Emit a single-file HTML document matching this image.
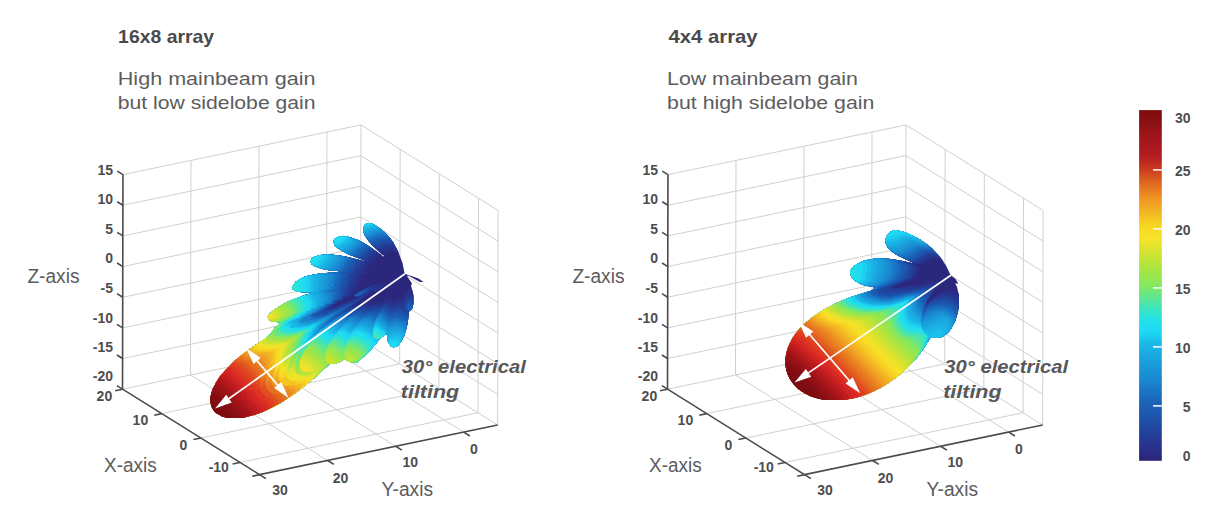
<!DOCTYPE html>
<html><head><meta charset="utf-8"><style>
html,body{margin:0;padding:0;background:#fff;}
svg{display:block;font-family:"Liberation Sans",sans-serif;}
</style></head><body>
<svg width="1222" height="529" viewBox="0 0 1222 529">
<rect width="1222" height="529" fill="#fff"/>
<line x1="190.97" y1="160.41" x2="190.51" y2="374.98" stroke="#d0d0d0" stroke-width="1.0"/>
<line x1="258.97" y1="146.22" x2="258.52" y2="360.79" stroke="#d0d0d0" stroke-width="1.0"/>
<line x1="326.98" y1="132.03" x2="326.52" y2="346.59" stroke="#d0d0d0" stroke-width="1.0"/>
<line x1="122.97" y1="174.61" x2="360.98" y2="124.93" stroke="#d0d0d0" stroke-width="1.0"/>
<line x1="122.9" y1="205.26" x2="360.92" y2="155.58" stroke="#d0d0d0" stroke-width="1.0"/>
<line x1="122.84" y1="235.91" x2="360.85" y2="186.24" stroke="#d0d0d0" stroke-width="1.0"/>
<line x1="122.77" y1="266.56" x2="360.78" y2="216.89" stroke="#d0d0d0" stroke-width="1.0"/>
<line x1="122.7" y1="297.22" x2="360.72" y2="247.54" stroke="#d0d0d0" stroke-width="1.0"/>
<line x1="122.64" y1="327.87" x2="360.65" y2="278.19" stroke="#d0d0d0" stroke-width="1.0"/>
<line x1="122.57" y1="358.52" x2="360.59" y2="308.84" stroke="#d0d0d0" stroke-width="1.0"/>
<line x1="400.15" y1="149.35" x2="399.7" y2="363.92" stroke="#d0d0d0" stroke-width="1.0"/>
<line x1="439.33" y1="173.78" x2="438.87" y2="388.34" stroke="#d0d0d0" stroke-width="1.0"/>
<line x1="478.5" y1="198.2" x2="478.04" y2="412.77" stroke="#d0d0d0" stroke-width="1.0"/>
<line x1="498.09" y1="210.41" x2="497.63" y2="424.98" stroke="#d0d0d0" stroke-width="1.0"/>
<line x1="360.98" y1="124.93" x2="360.52" y2="339.5" stroke="#d0d0d0" stroke-width="1.0"/>
<line x1="360.98" y1="124.93" x2="498.09" y2="210.41" stroke="#d0d0d0" stroke-width="1.0"/>
<line x1="360.92" y1="155.58" x2="498.02" y2="241.06" stroke="#d0d0d0" stroke-width="1.0"/>
<line x1="360.85" y1="186.24" x2="497.96" y2="271.72" stroke="#d0d0d0" stroke-width="1.0"/>
<line x1="360.78" y1="216.89" x2="497.89" y2="302.37" stroke="#d0d0d0" stroke-width="1.0"/>
<line x1="360.72" y1="247.54" x2="497.83" y2="333.02" stroke="#d0d0d0" stroke-width="1.0"/>
<line x1="360.65" y1="278.19" x2="497.76" y2="363.67" stroke="#d0d0d0" stroke-width="1.0"/>
<line x1="360.59" y1="308.84" x2="497.7" y2="394.33" stroke="#d0d0d0" stroke-width="1.0"/>
<line x1="190.51" y1="374.98" x2="327.62" y2="460.46" stroke="#d0d0d0" stroke-width="1.0"/>
<line x1="258.52" y1="360.79" x2="395.63" y2="446.27" stroke="#d0d0d0" stroke-width="1.0"/>
<line x1="326.52" y1="346.59" x2="463.63" y2="432.07" stroke="#d0d0d0" stroke-width="1.0"/>
<line x1="161.68" y1="413.6" x2="399.7" y2="363.92" stroke="#d0d0d0" stroke-width="1.0"/>
<line x1="200.86" y1="438.02" x2="438.87" y2="388.34" stroke="#d0d0d0" stroke-width="1.0"/>
<line x1="240.03" y1="462.44" x2="478.04" y2="412.77" stroke="#d0d0d0" stroke-width="1.0"/>
<line x1="360.52" y1="339.5" x2="122.51" y2="389.17" stroke="#d0d0d0" stroke-width="1.0"/>
<line x1="360.52" y1="339.5" x2="497.63" y2="424.98" stroke="#d0d0d0" stroke-width="1.0"/>
<line x1="735.97" y1="160.41" x2="735.51" y2="374.98" stroke="#d0d0d0" stroke-width="1.0"/>
<line x1="803.97" y1="146.22" x2="803.52" y2="360.79" stroke="#d0d0d0" stroke-width="1.0"/>
<line x1="871.98" y1="132.03" x2="871.52" y2="346.59" stroke="#d0d0d0" stroke-width="1.0"/>
<line x1="667.97" y1="174.61" x2="905.98" y2="124.93" stroke="#d0d0d0" stroke-width="1.0"/>
<line x1="667.9" y1="205.26" x2="905.92" y2="155.58" stroke="#d0d0d0" stroke-width="1.0"/>
<line x1="667.84" y1="235.91" x2="905.85" y2="186.24" stroke="#d0d0d0" stroke-width="1.0"/>
<line x1="667.77" y1="266.56" x2="905.78" y2="216.89" stroke="#d0d0d0" stroke-width="1.0"/>
<line x1="667.7" y1="297.22" x2="905.72" y2="247.54" stroke="#d0d0d0" stroke-width="1.0"/>
<line x1="667.64" y1="327.87" x2="905.65" y2="278.19" stroke="#d0d0d0" stroke-width="1.0"/>
<line x1="667.57" y1="358.52" x2="905.59" y2="308.84" stroke="#d0d0d0" stroke-width="1.0"/>
<line x1="945.15" y1="149.35" x2="944.7" y2="363.92" stroke="#d0d0d0" stroke-width="1.0"/>
<line x1="984.33" y1="173.78" x2="983.87" y2="388.34" stroke="#d0d0d0" stroke-width="1.0"/>
<line x1="1023.5" y1="198.2" x2="1023.04" y2="412.77" stroke="#d0d0d0" stroke-width="1.0"/>
<line x1="1043.09" y1="210.41" x2="1042.63" y2="424.98" stroke="#d0d0d0" stroke-width="1.0"/>
<line x1="905.98" y1="124.93" x2="905.52" y2="339.5" stroke="#d0d0d0" stroke-width="1.0"/>
<line x1="905.98" y1="124.93" x2="1043.09" y2="210.41" stroke="#d0d0d0" stroke-width="1.0"/>
<line x1="905.92" y1="155.58" x2="1043.02" y2="241.06" stroke="#d0d0d0" stroke-width="1.0"/>
<line x1="905.85" y1="186.24" x2="1042.96" y2="271.72" stroke="#d0d0d0" stroke-width="1.0"/>
<line x1="905.78" y1="216.89" x2="1042.89" y2="302.37" stroke="#d0d0d0" stroke-width="1.0"/>
<line x1="905.72" y1="247.54" x2="1042.83" y2="333.02" stroke="#d0d0d0" stroke-width="1.0"/>
<line x1="905.65" y1="278.19" x2="1042.76" y2="363.67" stroke="#d0d0d0" stroke-width="1.0"/>
<line x1="905.59" y1="308.84" x2="1042.7" y2="394.33" stroke="#d0d0d0" stroke-width="1.0"/>
<line x1="735.51" y1="374.98" x2="872.62" y2="460.46" stroke="#d0d0d0" stroke-width="1.0"/>
<line x1="803.52" y1="360.79" x2="940.62" y2="446.27" stroke="#d0d0d0" stroke-width="1.0"/>
<line x1="871.52" y1="346.59" x2="1008.63" y2="432.07" stroke="#d0d0d0" stroke-width="1.0"/>
<line x1="706.68" y1="413.6" x2="944.7" y2="363.92" stroke="#d0d0d0" stroke-width="1.0"/>
<line x1="745.86" y1="438.02" x2="983.87" y2="388.34" stroke="#d0d0d0" stroke-width="1.0"/>
<line x1="785.03" y1="462.44" x2="1023.04" y2="412.77" stroke="#d0d0d0" stroke-width="1.0"/>
<line x1="905.52" y1="339.5" x2="667.51" y2="389.17" stroke="#d0d0d0" stroke-width="1.0"/>
<line x1="905.52" y1="339.5" x2="1042.63" y2="424.98" stroke="#d0d0d0" stroke-width="1.0"/>
<g transform="scale(0.5)" fill-rule="evenodd">
<path fill="#2b277d" d="M769 464l-14 -11 -14 -7 -10 2 -4 5 -1 4 1 8 7 13 10 12 20 19 -1 1 -24 -17 -23 -13 -21 -7 -17 0 -8 4 -3 5 2 8 6 6 20 12 33 12 0 2 -42 -10 -25 -3 -13 0 -12 2 -10 4 -4 4 -1 5 2 4 12 7 25 6 16 1 5 2 -41 3 -22 4 -10 3 -17 10 -6 9 0 5 4 3 10 3 28 1 -20 6 -35 14 -23 14 -10 9 -4 6 4 6 6 3 17 2 -13 11 -8 12 -8 8 -31 20 -32 25 -31 33 -13 23 -5 17 1 16 3 7 6 8 14 8 12 3 31 -1 29 -8 37 -17 33 -21 43 -34 30 -28 15 -1 15 -8 11 7 13 0 24 -21 24 -29 5 -2 5 -5 2 1 1 12 7 12 6 2 7 -3 4 -4 9 -16 6 -19 4 -30 7 -7 2 -9 0 -16 -5 -20 2 -4 -10 -15 2 -1 24 13 7 0 -10 -7 -26 -9 -2 -2 -4 -20 -9 -24 -10 -18zM763 510l2 -1 3 3 -2 1z"/>
<path fill="#2a2d85" d="M802 555l-19 17 7 -5 1 1 -5 9 10 -12 -1 -2zM795 563l1 1 -4 3 -1 -1zM800 549l-24 4 -4 3zM769 464l-14 -11 -14 -7 -10 2 -4 5 -1 4 1 8 7 13 10 12 20 19 -1 1 -24 -17 -23 -13 -21 -7 -17 0 -8 4 -3 5 2 8 6 6 20 12 33 12 0 2 -42 -10 -25 -3 -13 0 -12 2 -10 4 -4 4 -1 5 2 4 12 7 25 6 16 1 5 2 -41 3 -22 4 -10 3 -17 10 -6 9 0 5 4 3 10 3 28 1 -20 6 -35 14 -23 14 -10 9 -4 6 4 6 6 3 17 2 -13 11 -8 12 -8 8 -31 20 -32 25 -31 33 -13 23 -5 17 1 16 3 7 6 8 14 8 12 3 31 -1 29 -8 37 -17 33 -21 43 -34 30 -28 15 -1 15 -8 11 7 13 0 24 -21 24 -29 5 -2 5 -5 2 1 1 12 7 12 6 2 7 -3 4 -4 9 -16 5 -15 5 -34 5 -4 3 -7 1 -21 -2 -10 -5 -3 -5 0 -11 16 -6 2 -10 8 -2 -2 0 -5 -5 1 -4 -2 -3 2 0 -3 -2 0 -7 7 -4 0 -9 5 -4 -3 -9 2 -9 -1 -3 2 -13 -1 31 -21 9 -3 9 -6 2 1 -1 2 6 -1 7 -5 6 -7 -3 0 -5 3 -2 -1 0 -3 -6 2 -7 -2 -11 3 -29 13 -12 9 -2 -1 0 -2 12 -9 -5 0 2 -2 -1 -1 8 -8 -5 -3 12 -3 2 -4 -10 0 5 -4 -1 -1 10 -6 -3 -5 4 -1 -1 -3 3 -3 2 0 -1 -2 3 -3 9 0 -4 -4 3 -4 2 0 0 -5 5 2 2 -2 -2 -2 6 -2 1 -3 2 1 3 -3 14 -5 15 5 -12 -23zM711 595l-25 12 -18 7 -2 -1 14 -10 10 -4 -1 -2 5 -3 12 -4 1 3z"/>
<path fill="#28338d" d="M776 571l-8 4 -3 4 4 -1zM826 588l-8 -3 -5 2 -5 8 -2 7 -10 0 -9 7 -2 -1 -1 -5 -12 -2 -5 4 -7 1 -6 3 -26 0 -4 2 -10 -1 -8 3 -1 -1 3 -3 35 -24 -5 2 -1 -1 2 -3 5 -3 2 1 0 2 6 -1 14 -10 0 -2 -3 0 -7 3 -1 -3 -6 -1 -14 5 -23 13 -5 5 2 2 4 0 0 2 -35 15 -16 5 -1 -1 9 -7 4 -1 3 -4 9 -3 1 -4 18 -7 0 -2 6 -5 -5 2 -3 -1 5 -4 -1 -5 6 -3 -3 -3 4 -2 -3 -3 9 -8 -4 -1 3 -2 0 -2 8 -5 -4 -1 3 -3 -3 -4 10 0 0 -2 -4 0 -1 -2 6 -3 2 -6 3 0 6 -5 1 -3 3 1 1 -3 9 -7 -35 -23 -24 -10 -22 -1 -5 2 -5 4 -1 6 2 5 6 6 20 12 34 13 -4 1 -29 -8 -35 -5 -21 1 -14 5 -4 4 -1 5 2 4 5 4 17 6 15 3 16 1 5 2 -41 3 -22 4 -10 3 -17 10 -6 9 0 5 4 3 10 3 28 1 -20 6 -35 14 -23 14 -10 9 -4 6 4 6 6 3 17 2 -13 11 -8 12 -8 8 -31 20 -32 25 -31 33 -13 23 -4 12 -1 15 4 13 6 8 14 8 12 3 31 -1 29 -8 37 -17 33 -21 43 -34 30 -28 15 -1 15 -8 11 7 13 0 24 -21 24 -29 5 -2 5 -5 2 1 1 12 6 11 7 3 7 -3 8 -10 10 -25 5 -34 7 -7 2 -9zM729 450l-3 7 3 13 15 20 17 16 19 -9 15 4 -14 -24 -19 -19 -21 -12 -5 0z"/>
<path fill="#253993" d="M761 574l-2 -1 -7 3 -6 6 1 1 6 -2zM827 594l-6 -3 -6 0 -5 6 -3 10 -14 1 -7 5 -3 -1 -1 -4 -11 -4 -8 7 -9 -1 -8 4 -2 -2 -16 1 -2 -2 -8 4 -4 -2 -12 2 -1 -1 32 -23 1 -1 -3 0 -4 2 -1 -1 17 -11 6 -6 -1 -2 -6 0 -24 11 -10 8 0 2 12 0 0 2 -48 19 -15 4 -1 -1 3 -3 15 -8 -1 -1 2 -2 9 -3 1 -5 19 -7 -9 0 7 -6 -2 -1 1 -3 6 -7 0 -2 -5 -1 9 -2 0 -4 4 -5 -7 0 5 -3 2 -5 2 0 2 -4 -2 -4 5 -1 -1 -5 7 -4 3 -9 4 0 5 -6 2 0 0 -4 3 -3 5 -1 5 -4 -31 -20 -24 -10 -22 -1 -5 2 -5 4 -1 6 2 5 6 6 20 12 34 13 -4 1 -29 -8 -35 -5 -21 1 -14 5 -4 4 -1 5 2 4 5 4 17 6 15 3 16 1 5 2 -41 3 -22 4 -10 3 -17 10 -6 9 0 5 4 3 10 3 28 1 -20 6 -35 14 -23 14 -10 9 -4 6 4 6 6 3 17 2 -13 11 -8 12 -8 8 -31 20 -32 25 -31 33 -13 23 -4 12 -1 15 4 13 6 8 14 8 12 3 31 -1 29 -8 37 -17 33 -21 43 -34 30 -28 15 -1 15 -8 11 7 13 0 24 -21 24 -29 5 -2 5 -5 2 1 1 12 6 11 7 3 7 -3 8 -10 10 -25 5 -34 5 -4 3 -7zM729 450l-3 7 3 13 8 12 20 20 18 -9 18 3 -12 -19 -19 -19 -21 -12 -5 0z"/>
<path fill="#234099" d="M756 577l-5 1 -4 4 6 -2zM743 576l-4 -2 -15 6 -14 9 -2 4 11 0 5 -2 19 -12zM827 599l-4 -3 -8 0 -6 8 1 8 -3 2 -2 -2 -14 1 -8 4 -4 -6 -9 -3 -3 1 -3 4 -14 0 -2 2 -7 0 -5 3 -1 -3 -6 0 -4 -2 -8 5 -3 0 -3 -3 -7 0 -9 5 -1 -1 26 -20 4 -4 -2 0 -45 19 -23 5 -1 -1 8 -5 2 -3 8 -3 2 -4 11 -4 -1 -3 15 -12 -5 0 3 -2 1 -7 4 -3 0 -3 -4 -2 2 -2 10 -1 1 -2 -11 0 8 -6 -1 -2 4 -4 1 -4 3 -1 -2 -1 0 -2 3 -1 -2 -3 7 0 3 -6 -2 0 -1 -2 4 -2 3 -5 -3 -2 -28 -7 -35 -5 -21 1 -14 5 -4 4 -1 5 2 4 5 4 17 6 15 3 16 1 5 2 -41 3 -22 4 -10 3 -17 10 -6 9 0 5 4 3 10 3 28 1 -20 6 -35 14 -23 14 -10 9 -4 6 4 6 6 3 17 2 -13 11 -8 12 -8 8 -31 20 -32 25 -31 33 -13 23 -4 12 -1 15 4 13 6 8 14 8 12 3 31 -1 29 -8 37 -17 33 -21 43 -34 30 -28 15 -1 15 -8 11 7 13 0 24 -21 24 -29 5 -2 5 -5 2 1 1 12 6 11 7 3 7 -3 8 -10 5 -10 6 -19 4 -30 7 -7zM667 482l2 8 15 12 18 9 27 10 7 -6 1 -4 4 2 0 -2 9 -9 -8 -7 -18 -11 -24 -10 -22 -1 -8 4zM727 453l-1 7 3 10 8 12 15 16 9 -2 12 -6 9 0 8 2 -4 -8 -10 -13 -21 -18 -14 -7 -8 1z"/>
<path fill="#20469f" d="M738 578l-6 -1 -19 10 -5 5 12 0 14 -8zM827 603l-5 -3 -7 0 -5 7 1 9 2 3 -1 1 -4 0 -1 -3 -3 1 -3 -2 -7 0 -12 4 -5 -6 -9 -3 -9 6 -8 -1 -14 4 -8 -3 -9 0 -4 3 -5 0 -1 -2 -3 1 -3 -2 -12 5 -1 -1 27 -23 -7 4 -46 18 -5 1 0 -2 -4 0 -6 2 -1 -1 3 -3 9 -5 2 -3 7 -2 -1 -2 2 -2 12 -4 0 -4 12 -9 -6 0 5 -8 -2 -2 6 -3 -2 -1 2 -3 -3 -2 0 -2 8 -8 -2 -2 2 -1 1 -5 -3 -2 6 -1 2 -2 -1 -3 4 -2 -3 -3 1 -3 8 -4 4 -8 -36 -9 -25 -3 -21 1 -14 5 -4 4 -1 5 2 4 5 4 17 6 15 3 16 1 5 2 -41 3 -22 4 -10 3 -17 10 -6 9 0 5 4 3 10 3 28 1 -20 6 -35 14 -23 14 -10 9 -4 6 4 6 6 3 17 2 -13 11 -8 12 -8 8 -31 20 -32 25 -31 33 -13 23 -4 12 -1 15 4 13 6 8 14 8 12 3 31 -1 29 -8 37 -17 33 -21 43 -34 30 -28 15 -1 15 -8 11 7 13 0 24 -21 24 -29 5 -2 5 -5 2 1 1 12 6 11 7 3 7 -3 8 -10 5 -10 8 -29 1 -17 -2 -2 6 -3 4 -5zM667 482l2 8 15 12 11 6 28 11 3 0 6 -7 2 1 1 -5 3 -3 5 -1 4 -4 -5 -5 -18 -11 -24 -10 -22 -1 -8 4zM727 453l-1 7 3 10 8 12 12 13 7 -1 14 -7 18 1 -12 -17 -21 -18 -14 -7 -8 1z"/>
<path fill="#1e4da5" d="M817 603l-6 6 0 5 5 8 3 0 6 -6 2 -9 -4 -3zM734 581l-2 -2 -4 0 -10 5 -10 8 11 0 9 -5 4 -4 2 0zM815 627l-5 -1 -1 -4 -3 1 -4 -3 -11 0 -7 4 -3 0 -2 -4 -12 -6 -11 7 -2 -3 -2 2 -5 -1 -8 3 -21 -3 -10 5 -4 -4 -5 0 -11 5 -1 -1 23 -21 -40 17 -10 2 -9 4 -4 0 -1 -1 5 -3 -7 2 -1 -1 17 -11 2 -3 6 -2 1 -4 12 -4 1 -3 7 -6 -4 -2 3 -3 -1 -1 2 -3 -2 -4 7 -4 -3 -2 5 -2 -2 -4 5 -6 -5 -1 4 -3 -1 -1 3 -3 -2 -4 6 -2 0 -6 5 -1 -1 -3 6 -6 -2 -1 4 -2 -1 -6 -6 -3 -37 -7 -24 -1 -18 4 -4 2 -5 6 2 7 5 4 17 6 15 3 16 1 5 2 -41 3 -22 4 -10 3 -17 10 -6 9 0 5 4 3 10 3 28 1 -20 6 -35 14 -23 14 -10 9 -4 6 4 6 6 3 17 2 -13 11 -8 12 -8 8 -31 20 -32 25 -31 33 -13 23 -4 12 -1 15 3 11 7 10 14 8 12 3 23 0 13 -2 24 -7 17 -7 27 -14 33 -22 36 -29 30 -28 15 -1 15 -8 11 7 13 0 24 -21 24 -29 5 -2 5 -5 2 1 1 12 6 11 7 3 7 -3 8 -10 10 -25 4 -21 0 -5zM667 482l2 8 6 6 20 12 26 10 6 -6 2 0 1 -4 3 2 2 -4 9 -9 -28 -17 -21 -7 -17 0 -8 4zM727 453l-1 7 3 10 8 12 9 10 6 0 16 -8 18 0 -17 -20 -21 -15 -7 -3 -5 0 -5 2z"/>
<path fill="#1d54ab" d="M822 607l-6 0 -4 5 1 6 4 4 4 -1 4 -5 1 -6zM729 582l-4 -1 -5 2 -12 9 6 1 6 -2 6 -4zM817 635l-6 -8 -4 1 -1 -3 -2 1 -2 -2 -1 1 -4 -2 -4 2 -4 -1 -8 4 -5 -6 -10 -6 -10 8 -4 0 -1 -2 -5 -1 -19 5 -2 -2 1 -2 -3 1 -5 -2 -10 5 -6 -3 -7 -1 -9 5 -2 -4 18 -14 0 -2 -46 19 -14 2 -6 3 -5 0 0 -2 5 -2 17 -13 4 -1 3 -4 7 -2 0 -4 14 -5 1 -3 5 -5 -4 2 -3 -1 6 -5 -2 -1 0 -8 5 -3 0 -2 -3 0 -2 -2 9 -2 2 -6 -7 1 -1 -2 7 -5 -1 -2 3 -5 -9 -3 6 -2 7 0 0 -8 8 -2 1 -3 -3 -2 5 -3 2 -5 -4 -4 -37 -7 -24 -1 -18 4 -4 2 -5 6 2 7 5 4 17 6 15 3 16 1 5 2 -41 3 -22 4 -10 3 -17 10 -6 9 0 5 4 3 10 3 28 1 -20 6 -35 14 -23 14 -10 9 -4 6 4 6 6 3 17 2 -13 11 -8 12 -8 8 -31 20 -32 25 -31 33 -13 23 -4 12 -1 15 3 11 7 10 14 8 12 3 23 0 13 -2 24 -7 17 -7 27 -14 33 -22 36 -29 30 -28 15 -1 15 -8 11 7 13 0 24 -21 24 -29 5 -2 5 -5 2 1 1 12 6 11 7 3 7 -3 8 -10 5 -10 6 -19zM667 482l2 8 6 6 14 9 26 11 4 0 6 -7 2 1 2 -6 2 -2 5 -1 4 -5 -1 -3 -15 -9 -29 -11 -17 0 -8 4zM727 453l-1 7 3 10 8 12 7 7 7 0 17 -8 16 1 -15 -18 -21 -15 -7 -3 -5 0 -5 2z"/>
<path fill="#1c5ab0" d="M821 610l-4 0 -4 5 2 5 3 2 3 -1 4 -5 0 -4zM726 584l-5 -1 -12 9 7 0 10 -6zM816 638l-3 -5 -4 0 -1 -3 -3 0 -1 -2 -2 1 -1 -2 -6 1 -2 -2 -13 5 -5 -6 -10 -6 -3 1 -7 7 -5 -1 0 -2 -10 0 -5 3 -3 -1 -4 4 -2 0 -6 -6 -4 0 -13 5 -3 -4 -5 -1 -10 3 -4 3 -1 -2 -5 3 -1 -1 22 -19 -48 19 -6 -1 -18 5 -1 -2 2 -2 18 -9 7 -6 5 -2 2 -3 8 -3 0 -3 2 -2 14 -5 3 -4 -6 2 -3 -1 7 -6 -4 0 2 -1 2 -5 -6 -3 8 -3 0 -4 -3 -3 0 -3 8 -8 -2 -2 4 -5 0 -3 -7 -1 -1 -2 10 -1 3 -3 0 -2 3 -1 -1 -5 8 -6 -1 -1 4 -4 -1 -5 -36 -7 -24 -1 -18 4 -4 2 -5 6 2 7 5 4 17 6 15 3 16 1 5 2 -41 3 -22 4 -10 3 -17 10 -6 9 0 5 4 3 10 3 28 1 -20 6 -35 14 -23 14 -10 9 -4 6 4 6 6 3 17 2 -13 11 -8 12 -8 8 -31 20 -32 25 -31 33 -13 23 -4 12 -1 15 3 11 7 10 14 8 12 3 23 0 13 -2 24 -7 17 -7 27 -14 33 -22 36 -29 30 -28 15 -1 15 -8 11 7 13 0 24 -21 24 -29 5 -2 5 -5 2 1 1 12 6 11 7 3 7 -3 8 -10 5 -10 6 -19zM667 482l2 8 6 6 14 9 23 10 3 0 7 -6 1 -3 4 1 0 -2 10 -11 0 -2 -13 -8 -29 -11 -17 0 -8 4zM727 453l-1 7 3 10 13 17 8 -1 14 -7 18 0 -13 -15 -21 -15 -7 -3 -5 0 -5 2z"/>
<path fill="#1a61b6" d="M818 613l-3 3 0 3 4 3 6 -6zM721 586l-2 -1 -10 7 6 0 5 -3zM816 642l-6 -7 -3 0 -2 -3 -2 1 -9 -3 -15 4 -5 -6 -10 -6 -4 1 -6 7 -12 -4 -11 2 -5 4 -2 0 -1 -3 -3 -2 -9 -1 -8 5 -4 -1 -3 -3 -7 0 -14 6 -1 2 -2 -1 -4 2 -1 -1 24 -21 -36 15 -17 4 0 -2 -15 3 -1 -2 2 -2 11 -5 15 -11 4 -1 1 -3 9 -3 1 -5 15 -6 -8 2 -1 -2 7 -6 -4 0 3 -3 -2 -7 -2 -1 8 -3 -3 -3 4 -1 -2 -6 5 -6 -4 -1 4 -3 1 -7 -5 -4 9 -2 0 -2 3 -2 -1 -2 5 -1 1 -5 4 -3 -2 -2 4 -2 1 -5 -5 -4 -39 -6 -21 1 -14 5 -5 6 2 7 5 4 17 6 15 3 16 1 5 2 -41 3 -22 4 -10 3 -17 10 -6 9 0 5 4 3 10 3 28 1 -20 6 -35 14 -23 14 -10 9 -4 6 4 6 6 3 17 2 -13 11 -8 12 -8 8 -31 20 -32 25 -31 33 -13 23 -4 12 -1 15 3 11 7 10 14 8 12 3 31 -1 37 -11 36 -18 33 -22 36 -29 30 -28 15 -1 15 -8 11 7 13 0 24 -21 24 -29 5 -2 5 -5 2 1 1 12 6 11 7 3 7 -3 8 -10 5 -10zM667 482l2 8 6 6 14 9 21 9 9 -7 2 0 1 -5 7 -4 5 -6 0 -2 -18 -10 -21 -7 -17 0 -8 4zM727 453l-1 7 3 10 8 12 4 3 9 -2 13 -7 17 0 -18 -18 -14 -9 -7 -3 -5 0 -5 2z"/>
<path fill="#1a68bc" d="M817 618l2 4 4 -3 -2 -2zM718 588l-2 -1 -7 5 4 0zM814 643l-3 -4 -3 0 -1 -2 -2 1 -2 -3 -2 1 -7 -2 -16 3 -5 -6 -11 -7 -5 3 -6 7 -4 -4 -14 0 -11 4 -7 -5 -9 1 -8 4 -2 -3 -11 -2 -11 7 -4 0 -10 6 -1 -1 26 -23 -3 0 -16 8 -20 7 -10 1 -3 2 -3 -1 4 -3 -12 2 -1 -1 2 -3 9 -4 12 -8 2 -3 7 -2 0 -3 11 -4 0 -4 11 -10 -5 0 4 -3 -1 -5 -4 -4 8 -4 -4 -4 1 -1 5 0 2 -8 -7 0 6 -6 -1 -2 3 -2 0 -2 -2 -1 0 -5 8 -4 0 -2 2 -1 -1 -5 2 -2 6 0 -5 -2 5 -3 5 -6 -2 -4 -4 -2 -24 -4 -24 -1 -18 4 -4 2 -5 6 2 7 5 4 17 6 15 3 16 1 5 2 -41 3 -22 4 -10 3 -17 10 -6 9 0 5 4 3 10 3 28 1 -20 6 -35 14 -23 14 -10 9 -4 6 4 6 6 3 17 2 -13 11 -8 12 -8 8 -31 20 -32 25 -31 33 -13 23 -4 12 -1 15 3 11 7 10 14 8 12 3 31 -1 37 -11 36 -18 33 -22 36 -29 30 -28 15 -1 15 -8 11 7 13 0 24 -21 24 -29 5 -2 5 -5 2 1 1 12 6 11 7 3 7 -3 8 -10 5 -10 6 -19zM667 482l2 8 6 6 14 9 16 7 10 -5 2 -4 3 1 11 -14 -2 -3 -13 -7 -21 -7 -17 0 -8 4zM727 453l0 12 10 17 7 0 17 -8 16 0 -1 -3 -14 -13 -21 -12 -8 1z"/>
<path fill="#1a72c2" d="M814 648l-3 -5 -2 0 -1 -2 -2 1 -5 -4 -2 1 -1 -2 -10 0 -10 4 -6 -7 -10 -7 -3 0 -9 11 -3 -2 0 -2 -3 0 -2 -2 -15 1 -5 4 -9 -6 -8 0 -9 6 -5 -4 -9 -1 -29 15 -1 -1 28 -26 -30 13 -25 5 -1 -1 5 -3 -6 1 -2 -2 1 -3 10 -5 7 -6 4 -1 2 -3 6 -2 1 -4 10 -3 1 -4 8 -7 -5 -1 3 -3 -2 -1 2 -2 -1 -4 -2 -2 -6 -1 12 -4 0 -3 -4 -3 0 -2 8 -10 -2 -1 3 -5 0 -3 -3 -3 -3 0 -1 -1 2 -1 -10 0 -29 3 -25 6 -17 10 -6 9 0 5 6 4 8 2 28 1 -20 6 -35 14 -23 14 -10 9 -4 6 4 6 6 3 17 2 -13 11 -8 12 -8 8 -31 20 -32 25 -31 33 -13 23 -4 12 -1 15 3 11 7 10 14 8 12 3 31 -1 37 -11 36 -18 33 -22 36 -29 30 -28 15 -1 15 -8 11 7 13 0 24 -21 24 -29 5 -2 5 -5 2 1 1 12 6 11 7 3 7 -3 8 -10 5 -10 5 -15zM621 524l2 4 5 4 13 5 19 4 21 2 3 -6 4 -1 0 -5 6 -5 -1 -2 4 -3 1 -3 -3 -4 -34 -5 -13 0 -12 2 -10 4 -4 4zM667 482l2 8 6 6 14 9 13 6 9 -5 1 -2 3 0 0 -3 5 -5 4 -1 4 -6 -1 -3 -11 -6 -21 -7 -17 0 -8 4zM727 453l0 12 9 15 5 0 22 -9 13 0 -14 -13 -21 -12 -8 1z"/>
<path fill="#1a7ac9" d="M814 653l-6 -8 -5 -1 -1 -2 -2 1 -1 -2 -3 1 -1 -2 -10 1 -8 3 -3 -3 0 -2 -13 -10 -4 1 -8 11 -5 -3 1 -2 -2 1 -2 -2 -17 1 -5 4 -8 -6 -9 0 -6 5 -4 1 -1 -4 -1 1 -6 -3 -6 0 -29 17 -2 -1 15 -13 -2 -1 13 -11 -3 0 -27 11 -24 4 0 -2 6 -3 -4 -1 -1 -3 15 -9 8 -7 6 -2 1 -4 12 -4 5 -8 -5 0 4 -4 -3 -1 2 -2 0 -5 -11 -3 12 -4 -1 -3 4 -1 -2 -5 4 -8 -2 1 -1 -2 4 -3 -2 -1 2 -3 0 -4 -3 -1 -2 -3 -34 3 -25 6 -17 10 -6 9 0 5 6 4 8 2 28 1 -20 6 -35 14 -23 14 -10 9 -4 6 4 6 6 3 17 2 -13 11 -8 12 -8 8 -31 20 -32 25 -31 33 -13 23 -4 12 -1 15 3 11 7 10 14 8 12 3 31 -1 37 -11 36 -18 33 -22 36 -29 30 -28 15 -1 15 -8 11 7 13 0 24 -21 24 -29 5 -2 5 -5 2 1 1 12 6 11 7 3 7 -3 8 -10 5 -10zM621 524l2 4 5 4 13 5 19 4 17 1 2 -4 3 -1 0 -4 5 0 0 -2 3 -3 -3 -2 6 -6 0 -4 -3 -3 -10 -2 -32 -2 -12 2 -10 4 -4 4zM667 482l2 8 6 6 14 9 11 5 7 -4 4 -6 3 1 6 -6 -1 -1 6 -7 -1 -3 -8 -4 -21 -7 -17 0 -8 4zM727 453l0 12 7 13 8 -1 17 -8 14 0 -11 -11 -21 -12 -8 1z"/>
<path fill="#1a84cf" d="M812 653l-5 -5 -3 0 -1 -2 -7 -2 -11 0 -8 4 -5 -7 -12 -9 -3 0 -8 11 -14 -7 -12 2 -6 5 -7 -6 -8 -2 -9 7 -3 0 -8 -5 -7 0 -32 19 -2 -1 14 -13 -1 -1 7 -7 5 -3 2 -4 -28 11 -10 2 -5 -1 -7 3 -5 0 -1 -1 2 -2 7 -3 -1 -3 -10 5 -2 -1 1 -2 13 -6 12 -9 5 -2 2 -3 8 -3 -1 -2 2 -2 12 -4 2 -4 -7 0 5 -5 -3 -1 2 -2 0 -6 -4 -2 -11 -1 17 -5 0 -2 -3 -2 6 -2 1 -5 -5 1 -1 -3 6 -6 -1 -2 2 -2 0 -5 -4 -5 -31 3 -25 6 -17 10 -6 9 0 5 6 4 8 2 28 1 -20 6 -35 14 -23 14 -10 9 -4 6 4 6 6 3 17 2 -13 11 -8 12 -8 8 -31 20 -32 25 -31 33 -13 23 -4 12 -1 15 3 11 7 10 14 8 12 3 31 -1 37 -11 36 -18 33 -22 36 -29 30 -28 15 -1 15 -8 11 7 13 0 24 -21 24 -29 5 -2 5 -5 2 1 1 12 6 11 7 3 7 -3 8 -10 5 -10 5 -15zM621 524l3 5 11 6 25 6 12 1 4 -4 0 -2 3 -1 0 -4 10 -11 0 -5 -3 -3 -14 -2 -32 0 -14 5 -4 4zM667 482l2 8 6 6 20 12 6 -2 5 -5 3 0 2 -5 7 -4 4 -6 0 -2 -6 -4 -21 -7 -17 0 -8 4zM726 457l1 8 5 10 10 -1 14 -7 15 -1 -16 -13 -14 -7 -10 2 -4 5z"/>
<path fill="#1a8cd4" d="M811 656l-7 -6 -12 -3 -5 0 -11 4 -3 -6 -15 -11 -5 3 -5 9 -7 -5 -6 -1 -15 1 -5 5 -6 -6 -6 -2 -7 2 -7 6 -3 -3 -1 1 -6 -4 -9 0 -33 21 -1 -2 15 -14 -3 0 15 -15 -31 11 -12 0 -9 3 -11 1 -1 -1 8 -8 18 -10 1 -2 4 -1 2 -3 6 -2 2 -4 7 -2 2 -5 12 -4 -6 2 -3 -1 7 -7 -4 -1 2 -2 0 -4 -5 -6 -4 1 -5 -2 12 -3 4 -4 -3 -6 5 -7 -2 -3 3 -3 -1 -1 2 -3 0 -2 -4 -4 -19 0 -32 7 -17 10 -6 9 0 5 6 4 8 2 28 1 -20 6 -35 14 -23 14 -10 9 -4 6 4 6 6 3 17 2 -13 11 -8 12 -8 8 -31 20 -32 25 -31 33 -13 23 -4 12 -1 15 3 11 7 10 14 8 12 3 31 -1 37 -11 36 -18 33 -22 36 -29 30 -28 15 -1 15 -8 11 7 13 0 24 -21 24 -29 5 -2 5 -5 2 1 1 12 6 11 7 3 7 -3 8 -10 5 -10 4 -12zM621 521l2 7 5 4 17 6 24 4 0 -2 4 -4 0 -3 5 -1 4 -6 -2 -2 3 -2 3 -7 -6 -4 -32 -2 -18 4 -4 2zM667 482l2 8 6 6 16 10 5 0 6 -5 2 0 0 -2 2 -2 2 1 11 -13 0 -3 -3 -2 -21 -7 -17 0 -8 4zM726 457l1 8 4 8 8 -1 14 -7 16 -1 -14 -11 -14 -7 -10 2 -4 5z"/>
<path fill="#1a94d6" d="M810 659l-9 -7 -6 0 -1 -2 -10 1 -9 3 -2 -5 -6 -6 -11 -7 -3 2 -6 11 -14 -7 -12 0 -8 6 -11 -7 -6 0 -10 8 -3 0 -8 -7 -4 0 -7 2 -31 20 -1 -1 14 -14 -3 2 -2 -1 10 -8 7 -9 -29 10 -16 0 -8 3 -6 0 -1 -2 9 -9 13 -7 4 -4 4 -1 2 -3 6 -2 2 -4 9 -3 0 -3 8 -8 -5 -1 3 -3 -2 -4 1 -3 -4 -4 -5 0 -1 -2 10 -3 0 -4 4 -2 0 -6 -4 0 -1 -2 5 -6 -1 -2 2 -2 0 -4 -3 -6 -21 2 -25 6 -17 10 -6 9 0 5 6 4 8 2 28 1 -20 6 -35 14 -23 14 -10 9 -4 6 4 6 6 3 17 2 -13 11 -8 12 -8 8 -31 20 -25 19 -33 33 -12 17 -8 17 -3 12 1 16 3 7 6 8 14 8 12 3 31 -1 37 -11 36 -18 33 -22 36 -29 30 -28 15 -1 15 -8 11 7 13 0 24 -21 24 -29 5 -2 5 -5 2 1 1 12 6 11 7 3 7 -3 8 -10 5 -10 3 -9zM621 521l2 7 5 4 13 5 23 4 3 -6 4 -1 1 -6 6 -5 3 -6 0 -4 -2 -2 -18 -2 -21 1 -14 5zM667 485l2 5 6 6 15 9 13 -7 11 -11 2 -7 -21 -7 -17 0 -10 6zM726 457l1 8 3 6 7 -1 14 -7 15 -1 -11 -9 -14 -7 -10 2 -4 5z"/>
<path fill="#1a9cda" d="M809 663l-5 -5 -9 -4 -11 1 -9 3 -3 -7 -16 -13 -4 3 -5 10 -14 -6 -16 1 -5 5 -2 0 -7 -6 -10 -1 -9 8 -4 0 -5 -6 -11 -1 -35 23 -1 -2 14 -14 -3 2 -2 -1 17 -17 -33 10 -4 -1 -5 2 -1 -1 2 -2 -14 2 -1 -3 7 -8 15 -8 9 -8 5 -1 2 -4 9 -3 6 -9 -5 0 3 -4 -2 -1 1 -4 -2 -4 -4 -2 2 -2 -2 0 -1 -2 2 -2 5 -1 -2 -9 5 -7 -3 -2 3 -3 1 -8 -5 -4 -7 0 -32 7 -17 10 -6 9 0 5 6 4 8 2 28 1 -20 6 -35 14 -23 14 -10 9 -4 6 4 6 6 3 17 2 -13 11 -8 12 -8 8 -31 20 -25 19 -33 33 -12 17 -8 17 -3 12 1 16 3 7 6 8 14 8 12 3 31 -1 37 -11 36 -18 33 -22 36 -29 30 -28 15 -1 15 -8 11 7 13 0 24 -21 24 -29 5 -2 5 -5 2 1 1 12 6 11 7 3 7 -3 8 -10 7 -16zM622 519l-1 5 2 4 5 4 13 5 18 3 3 -5 3 -1 -1 -3 2 -2 4 1 2 -4 -1 -2 4 -4 2 -7 -5 -3 -24 -1 -18 4zM667 485l2 5 6 6 9 6 4 1 11 -6 2 -4 3 0 8 -9 1 -5 -18 -6 -17 0 -10 6zM726 457l1 8 2 3 8 -1 12 -6 14 -1 -8 -7 -14 -7 -10 2 -4 5z"/>
<path fill="#1aa4de" d="M809 669l-5 -7 -9 -4 -9 0 -11 4 -2 -2 -1 -6 -18 -13 -4 4 -5 10 -4 -1 -8 -6 -6 -1 -12 2 -6 5 -10 -7 -7 -1 -14 11 0 -2 -2 0 0 -2 -5 -4 -9 -1 -10 5 -25 17 -1 -2 13 -13 -4 2 -1 -2 17 -17 -34 10 -9 0 0 -2 -9 1 -2 -3 2 -2 0 -3 4 -4 15 -8 9 -8 7 -2 1 -4 11 -4 1 -4 -4 2 -2 -1 4 -5 -3 -1 2 -2 -2 -3 0 -4 -6 -4 5 -2 -1 -2 2 -4 -2 -2 5 -2 0 -4 -4 0 -1 -2 5 -7 -1 -3 2 -3 0 -5 -4 -4 -34 7 -17 10 -6 9 0 5 6 4 8 2 28 1 -20 6 -35 14 -23 14 -10 9 -4 6 4 6 6 3 17 2 -13 11 -8 12 -8 8 -31 20 -25 19 -33 33 -12 17 -8 17 -3 12 1 16 3 7 6 8 14 8 12 3 31 -1 29 -8 37 -17 33 -21 43 -34 30 -28 15 -1 15 -8 11 7 13 0 24 -21 24 -29 5 -2 5 -5 2 1 0 8 4 11 4 5 6 2 7 -3 4 -4zM673 512l-1 -2 -11 -1 -21 1 -14 5 -4 4 -1 5 2 4 5 4 13 5 12 2 6 -5 1 -3 3 0 1 -4 8 -10zM667 485l2 5 6 6 10 5 13 -7 9 -9 3 -7 -15 -5 -17 0 -10 6zM726 460l1 5 3 1 17 -7 13 -2 -12 -8 -7 -3 -5 0 -7 4 -2 3z"/>
<path fill="#1aace2" d="M807 671l-3 -5 -9 -4 -12 1 -7 4 -3 -3 -3 -9 -2 0 -12 -11 -4 0 -2 2 -4 12 -3 2 -6 -5 -11 -5 -11 1 -8 7 -8 -6 -8 -3 -4 1 -11 10 -5 -6 -11 -4 -37 23 -1 -1 14 -15 -3 2 -2 -1 15 -17 -33 9 -7 -1 -4 2 -3 -1 5 -3 -6 0 -1 -4 -2 -1 1 -1 -5 2 -3 -1 20 -10 12 -9 4 -1 1 -3 8 -3 0 -3 9 -10 -5 0 3 -3 -2 -1 -1 -7 -3 -3 -9 -1 2 -5 4 1 6 -2 -1 -3 2 -1 0 -10 -2 0 -1 -2 3 -4 2 -9 -3 -5 -4 0 -25 6 -17 10 -6 9 0 5 6 4 8 2 28 1 -20 6 -35 14 -23 14 -10 9 -4 6 4 6 6 3 17 2 -13 11 -8 12 -8 8 -31 20 -25 19 -33 33 -12 17 -8 17 -3 12 1 16 3 7 6 8 14 8 12 3 31 -1 29 -8 37 -17 33 -21 43 -34 30 -28 15 -1 15 -8 11 7 13 0 24 -21 24 -29 5 -2 5 -5 2 1 0 8 4 11 4 5 6 2 7 -3 4 -4 8 -14zM667 510l-19 -1 -12 2 -10 4 -4 4 -1 5 2 4 5 4 13 5 7 1 5 -4 1 -3 3 -1 1 -4 6 -6 4 -6zM667 485l2 5 6 6 7 3 12 -6 10 -10 2 -6 -11 -4 -17 0 -10 6zM726 460l1 3 4 0 17 -7 9 -1 -9 -6 -7 -3 -5 0 -7 4 -2 3z"/>
<path fill="#1ab4e6" d="M794 666l-10 1 -7 4 -3 -1 0 7 3 9 7 8 4 1 7 -3 10 -14 -1 -6 -3 -3zM772 661l-18 -15 -4 2 -5 15 -6 -1 -10 -8 -1 1 -10 -2 -7 2 -6 7 -13 -9 -7 0 -12 11 0 -4 -2 1 -1 -2 -9 -5 -7 0 -35 23 -1 -1 14 -15 -4 2 -2 -1 17 -19 -35 9 -2 -2 -5 2 -6 0 -1 -1 5 -3 -3 -3 -6 2 -1 -1 2 -2 -6 1 -1 -2 17 -8 11 -8 2 0 3 -4 5 -1 2 -4 8 -3 0 -2 5 -6 -4 -1 2 -4 -3 -5 0 -3 -3 -3 1 -1 -4 0 -2 -4 -39 13 -17 8 -19 12 -13 13 -1 3 4 5 6 3 17 2 -13 11 -8 12 -8 8 -31 20 -25 19 -26 25 -12 14 -13 23 -4 12 -1 15 3 11 7 10 14 8 12 3 31 -1 37 -11 36 -18 33 -22 36 -29 30 -28 15 -1 15 -8 11 7 13 0 24 -21 24 -29 11 -7zM633 552l-2 -3 -13 2 -10 3 -12 6 -9 9 -2 4 0 5 6 4 8 2 31 -1 2 -4 -3 -3 0 -4 3 -5 -2 -3 3 -3zM662 511l-2 -2 -24 2 -10 4 -4 4 -1 5 2 4 5 4 14 5 7 -7 2 0 0 -3 7 -7zM667 485l2 5 6 6 6 0 16 -11 5 -5 1 -4 -8 -3 -17 0 -10 6zM726 460l5 0 14 -6 9 -1 -13 -7 -5 0 -7 4 -2 3z"/>
<path fill="#1bc0eb" d="M794 671l-7 0 -11 6 -2 -2 4 13 6 6 4 1 7 -3 8 -10 -2 -8zM772 664l-18 -15 -3 0 -2 2 -5 18 -1 -2 -5 -2 -9 -7 -8 -2 -12 2 -7 8 -11 -9 -9 -1 -12 12 -2 -1 2 -3 -3 2 -4 -6 -7 -3 -5 0 -34 23 -1 -2 13 -15 -6 4 -2 -1 12 -11 -3 -1 8 -7 -1 -1 -33 8 -9 -1 -5 2 -10 -1 9 -9 -8 3 -2 -1 4 -5 16 -7 14 -9 2 -3 6 -2 2 -4 8 -2 2 -5 -5 0 3 -4 -2 -2 1 -2 -2 -6 -6 -5 2 -1 -1 -2 -6 0 -32 11 -17 8 -19 12 -13 13 -1 3 4 5 6 3 17 2 -13 11 -8 12 -8 8 -31 20 -25 19 -26 25 -12 14 -13 23 -4 12 -1 15 3 11 7 10 14 8 12 3 31 -1 37 -11 36 -18 33 -22 36 -29 30 -28 15 -1 15 -8 11 7 13 0 24 -21 21 -26 13 -10zM626 552l-2 -2 -16 4 -12 6 -9 9 -2 4 0 5 6 4 8 2 26 0 1 -3 -2 -3 4 -1 -1 -4 -4 -1 3 -6 -1 -3 2 -2zM655 509l-15 1 -14 5 -5 6 2 7 12 7 4 -1 4 -5 2 0 11 -17zM699 475l-4 -2 -20 1 -7 5 0 9 5 6 6 -1 14 -9 5 -5zM750 451l-9 -5 -5 0 -7 4 -3 7z"/>
<path fill="#1dd0f1" d="M795 677l-8 0 -10 5 -2 -1 7 12 6 2 7 -3 4 -4 1 -6zM772 667l-2 -3 -9 -5 -8 -8 -2 0 -3 3 -3 20 -9 -8 -16 -6 -12 1 -9 9 -2 -4 -5 -4 -7 -3 -5 0 -14 13 0 -4 -2 1 0 -3 -3 -1 1 -1 -6 -3 -8 -1 -9 5 -12 10 -14 8 -1 -1 14 -16 -8 5 -2 -1 12 -12 -1 -2 8 -7 -1 -2 -14 5 -24 4 0 -2 -8 2 -9 0 0 -3 6 -6 -9 3 -1 -2 6 -6 16 -7 6 -5 2 0 2 -3 4 -1 3 -4 5 -1 8 -12 -2 -2 1 -3 -2 -1 0 -4 -4 -6 -7 -1 0 -2 -28 9 -17 8 -19 12 -13 13 -1 3 4 5 6 3 17 2 -13 11 -8 12 -8 8 -31 20 -25 19 -26 25 -12 14 -13 23 -4 12 -1 15 3 11 7 10 14 8 12 3 31 -1 37 -11 36 -18 33 -22 36 -29 30 -28 15 -1 15 -8 11 7 13 0 18 -15 16 -17 11 -15 8 -5zM749 681l1 -3 8 1 -6 5zM620 554l-2 -2 -3 0 -19 8 -9 9 -2 4 0 5 6 4 8 2 22 0 -2 -3 2 -2 0 -4 -3 -3 2 -6zM649 510l-9 0 -14 5 -5 6 2 7 8 5 6 -3 9 -11zM694 473l-16 0 -8 4 -3 5 2 8 4 1 14 -7 7 -8zM746 449l-5 -3 -5 0 -5 2 -4 5 5 0 10 -4z"/>
<path fill="#1fdaf1" d="M778 688l4 5 6 2 7 -3 0 -6 -3 -2 -6 0zM748 656l-2 15 3 6 9 1 9 -5 4 -4 -19 -15zM755 684l-6 3 -2 -6 -6 -6 -2 0 -6 -6 -1 1 -10 -6 -7 -1 -10 2 -8 8 -4 -5 -8 -5 -8 -1 -13 13 -2 -1 1 -3 -2 2 -1 -1 1 -3 -2 1 -5 -5 -10 -2 -12 8 -6 7 -5 1 -11 8 -1 -2 14 -16 -8 5 -1 -2 10 -10 -2 -1 8 -8 0 -3 -21 6 -17 2 -2 -2 -11 0 -1 -2 3 -5 -6 3 -4 -1 3 -5 5 -4 19 -9 7 -6 5 -2 3 -4 6 -1 1 -4 4 -5 -4 -1 2 -3 -3 -1 1 -2 -5 -10 -5 -3 1 -1 -26 9 -17 8 -19 12 -13 13 -1 3 4 5 6 3 17 2 -13 11 -8 12 -8 8 -31 20 -25 19 -26 25 -12 14 -7 11 -9 20 -2 9 1 16 3 7 6 8 14 8 12 3 31 -1 37 -11 36 -18 33 -22 36 -29 30 -28 15 -1 15 -8 11 7 13 0 18 -15zM611 553l-15 7 -5 4 -6 9 0 5 6 4 8 2 14 0 0 -3 2 -2 -1 -6 -2 0 -1 -2 2 -3 -1 -3 2 -3 0 -4zM642 510l-16 5 -5 6 2 7 5 2 5 -3 7 -9zM689 474l-11 -1 -5 2 -5 4 0 8 5 0 10 -6zM740 446l-4 0 -5 3z"/>
<path fill="#21deeb" d="M747 660l0 13 5 5 8 -1 10 -7 -8 -4 -10 -9 -3 0zM752 688l-5 3 -3 -8 -4 -4 -2 0 -3 -4 -2 1 -8 -6 -6 -2 -16 0 -8 9 -5 -6 -4 -1 -4 -4 -7 -1 -14 14 -2 -1 2 -4 -3 2 0 -3 -2 1 -1 -3 -1 1 -6 -5 -9 0 -14 12 -2 0 -16 11 -1 -2 12 -14 -6 3 -2 -1 10 -11 -4 0 10 -9 -1 -2 2 -2 -17 5 -11 2 -7 -1 -5 2 -4 -1 3 -2 -7 0 -2 -2 1 -3 -8 2 -2 -2 11 -11 10 -4 9 -7 4 -1 2 -3 4 -1 2 -4 8 -2 2 -5 -5 0 3 -4 -3 -1 1 -2 -4 -8 -8 -5 1 -2 -20 7 -17 8 -19 12 -13 13 -1 3 4 5 6 3 17 2 -13 11 -8 12 -8 8 -31 20 -25 19 -26 25 -12 14 -7 11 -9 20 -2 9 1 16 3 7 6 8 14 8 12 3 31 -1 29 -8 37 -17 33 -21 43 -34 30 -28 15 -1 15 -8 11 7 13 0 18 -15zM606 557l-2 -1 -13 8 -6 9 1 6 5 3 8 2 10 -1 -1 -8 -3 -2 0 -6 2 -3zM634 512l-8 3 -4 4 -1 5 2 3 4 -2 5 -6zM682 473l-9 2 -5 4 -1 4 8 -2 6 -5z"/>
<path fill="#29e1de" d="M747 663l0 9 2 4 4 2 7 -1 8 -5 -11 -6 -6 -6 -2 0zM748 692l-4 3 -3 -9 -5 -5 -19 -10 -16 1 -6 8 -3 0 0 -2 -4 -1 -4 -5 -6 -3 -6 0 -15 14 -1 -1 2 -4 -3 2 0 -4 -2 1 -3 -4 -1 1 -1 -2 -9 -3 -9 5 -4 5 -6 4 -1 3 -2 -1 -14 9 -1 -1 14 -17 -10 6 -1 -2 11 -12 -3 2 -1 -2 10 -9 -1 -2 3 -3 -12 4 -17 3 -8 -1 -11 3 -1 -2 6 -3 -4 -3 -5 2 -2 -1 2 -2 -8 3 -1 -1 12 -14 20 -10 2 -3 4 -1 1 -3 5 -1 7 -11 -3 -1 1 -3 -2 -1 1 -1 -2 -1 1 -1 -4 -6 -4 -2 -2 -3 -39 17 -16 11 -6 6 -4 6 4 6 6 3 17 2 -13 11 -8 12 -8 8 -31 20 -25 19 -33 33 -12 17 -8 17 -3 12 1 16 3 7 6 8 14 8 12 3 31 -1 29 -8 37 -17 33 -21 43 -34 30 -28 15 -1 15 -8 11 7 13 0 18 -15zM596 560l-9 9 -2 4 0 5 6 4 11 2 0 -7 -2 -1 0 -4 -2 -3 1 -7 -1 -2z"/>
<path fill="#36e3ca" d="M748 664l-1 7 4 6 7 0 7 -3 -7 -4 -7 -7zM743 698l-3 2 0 -5 -4 -8 -5 -2 -1 -3 -11 -6 -5 0 -3 -2 -11 1 -7 10 -13 -10 -8 -3 -5 2 -12 13 0 -5 -3 2 0 -4 -2 1 -8 -7 -8 -1 -10 7 -7 8 -4 1 -13 9 -1 -2 12 -15 -6 3 -2 -1 2 -4 8 -8 -3 2 -2 -2 9 -8 -1 -2 5 -5 -12 4 -25 4 -2 -2 -7 2 -11 0 0 -3 6 -6 -6 3 -5 -1 5 -6 8 -6 1 -3 6 -2 11 -8 9 -4 0 -2 2 -2 5 -1 4 -6 -4 -1 2 -3 -2 -1 -3 -9 -4 -4 -4 -1 -1 -2 -9 3 -17 8 -19 12 -13 13 -1 3 4 5 6 3 17 2 -13 11 -8 12 -8 8 -31 20 -25 19 -26 25 -12 14 -7 11 -9 20 -2 9 1 16 3 7 6 8 14 8 12 3 31 -1 29 -8 37 -17 33 -21 43 -34 30 -28 15 -1 15 -8 11 7 13 0 18 -15zM613 691l1 2 -2 2 -1 -2zM589 568l-4 5 0 5 10 5 0 -6z"/>
<path fill="#46e4b4" d="M748 668l0 5 4 4 11 -2 -7 -3 -6 -6zM736 695l-7 -8 -3 0 -2 -3 -10 -5 -16 0 -8 12 -1 -4 -1 1 -5 -6 -9 -5 -7 -1 -15 15 0 -5 -3 2 0 -4 -3 1 0 -3 -2 -2 -8 -3 -6 0 -14 12 -9 13 -1 -2 5 -8 -14 9 0 -3 12 -15 -10 6 -1 -2 10 -12 -4 0 7 -7 0 -3 6 -6 -25 6 -15 1 0 -2 -14 1 -1 -2 5 -6 -10 4 -2 -1 14 -14 0 -3 22 -12 2 -3 5 -1 2 -4 6 -2 -5 -1 3 -4 -3 -1 0 -5 -5 -8 -5 -5 -23 10 -19 12 -13 13 -1 3 4 5 6 3 17 2 -13 11 -8 12 -8 8 -31 20 -25 19 -26 25 -12 14 -7 11 -9 20 -2 9 1 16 3 7 6 8 14 8 12 3 31 -1 29 -8 37 -17 33 -21 43 -34 30 -28 15 -1 15 -8 11 7 13 0 24 -21 -2 -1zM602 708l1 2 -2 2 -1 -2zM602 707l1 -1 1 2 -1 1zM605 703l1 2 -2 2 -1 -2zM605 702l1 -1 1 2 -1 1zM585 575l0 3 2 1z"/>
<path fill="#56e69c" d="M749 672l0 2 4 3 5 -1 -6 -5zM733 698l-5 -6 -11 -7 -10 -3 -10 0 -6 10 -3 2 -1 -3 -1 1 -1 -2 -2 0 -7 -7 -6 -3 -6 0 -7 9 -8 6 0 -5 -3 2 0 -4 -2 0 -1 -2 -2 1 -4 -5 -9 -2 -4 2 -8 8 -17 27 -1 -3 10 -18 -14 9 -1 -1 4 -7 8 -10 -10 6 -1 -2 11 -13 -3 2 -2 -1 9 -10 -2 -1 5 -5 0 -2 -17 5 -13 2 -11 0 0 -2 -8 0 -2 -2 2 -5 -9 4 -2 -1 12 -12 1 -5 3 -3 16 -8 8 -7 6 -2 2 -6 -4 -1 2 -3 -2 -1 -2 -6 -9 -9 -17 8 -19 12 -13 13 -1 3 4 5 6 3 17 2 -13 11 -8 12 -8 8 -31 20 -25 19 -26 25 -12 14 -7 11 -9 20 -2 9 1 16 3 7 6 8 14 8 12 3 31 -1 29 -8 37 -17 33 -21 43 -34 30 -28 15 -1 15 -8 11 7 13 0 15 -13 0 -2 5 -6zM597 717l1 -1 1 2 -1 1z"/>
<path fill="#69e684" d="M728 698l-11 -8 -11 -4 -10 0 -8 13 -3 -2 0 -2 -1 1 -3 -4 -2 0 -7 -6 -4 -2 -7 0 -10 18 0 -5 -5 3 -1 -1 2 -5 -4 3 0 -5 -2 1 -1 -3 -2 1 -1 -3 -1 1 -3 -4 -9 -1 -9 8 -6 8 -10 20 -3 3 0 -5 9 -18 -14 10 -1 -2 12 -18 -9 6 -2 -1 11 -14 -5 3 -2 -1 10 -10 -3 -1 7 -8 -1 -1 -22 6 -15 0 -8 2 -1 -2 3 -3 -3 0 -4 -4 -8 3 -2 -1 13 -13 0 -5 -12 10 -8 12 -8 8 -31 20 -25 19 -33 33 -12 17 -8 17 -3 12 1 16 3 7 6 8 14 8 12 3 31 -1 29 -8 37 -17 33 -21 43 -34 30 -28 15 -1 15 -8 11 7 13 0 9 -7 -1 1 -1 -2 10 -11zM712 723l2 -2 2 1 -2 2zM597 623l-4 -1 1 -3 -2 -1 0 -3 -2 -1 1 -1 -4 -6 -8 -5 -11 5 -19 12 -10 9 -4 7 4 5 6 3 18 1 15 -8 1 -2 4 -1 2 -3 3 0 2 -4z"/>
<path fill="#7ce86a" d="M727 706l-6 -8 -4 -1 -1 -2 -8 -4 -14 -1 -2 2 -5 14 -1 -4 -2 1 -3 -5 -2 0 -1 -2 -1 1 -7 -7 -9 -3 -6 7 -7 15 0 -8 -4 3 0 -6 -3 2 -1 -4 -2 1 -3 -5 -13 -5 -12 12 -8 13 -4 12 -4 3 0 -5 8 -18 -14 10 -1 -2 11 -18 -10 7 -1 -2 12 -15 -6 4 -2 -1 10 -11 -3 2 -2 -1 9 -10 -2 -1 -25 6 -28 0 -1 -2 5 -6 -7 3 -2 -2 12 -11 0 -5 -8 7 -8 12 -8 8 -31 20 -25 19 -33 33 -12 17 -8 17 -3 12 1 16 3 7 6 8 14 8 12 3 31 -1 29 -8 37 -17 33 -21 43 -34 30 -28 15 -1 15 -8 11 7 7 -1 10 -5 9 -9zM590 622l-2 -1 1 -2 -3 -2 1 -1 -2 -1 -4 -8 -2 0 -1 -3 -3 0 -14 7 -16 11 -6 6 -4 7 4 5 6 3 14 1 13 -6 6 -5 4 -1 2 -3 4 -1z"/>
<path fill="#8ce859" d="M723 708l-4 -5 -12 -7 -13 -2 -4 5 -2 10 -3 2 -1 -4 -3 0 0 -3 -1 1 -1 -2 -2 0 -1 -3 -10 -7 -6 -2 -3 1 -6 12 -2 8 -3 2 -1 -7 -3 2 -2 -1 2 -5 -4 2 0 -5 -3 2 0 -4 -2 1 -1 -3 -2 1 -4 -4 -8 -2 -10 11 -7 13 -3 12 -5 5 0 -8 6 -15 -14 9 -1 -1 11 -19 -10 7 -2 -1 11 -15 -7 4 -1 -2 10 -11 -2 1 -1 -2 7 -7 1 -4 -4 2 -26 5 -10 0 0 -2 -12 0 -1 -3 3 -4 -8 3 -2 -1 12 -11 0 -4 -4 3 -8 12 -8 8 -31 20 -25 19 -33 33 -12 17 -8 17 -3 12 1 16 3 7 6 8 14 8 12 3 31 -1 29 -8 37 -17 33 -21 43 -34 25 -25 5 -3 15 -1 15 -8 11 7 6 -1 10 -5 7 -7zM583 619l-11 -14 -27 17 -6 6 -4 7 4 5 6 3 11 1 24 -13 4 -7 0 -2 -2 -1z"/>
<path fill="#97e64e" d="M720 712l-11 -10 -8 -3 -9 0 -3 6 0 12 -2 1 -4 -6 -2 1 -1 -3 -2 0 -1 -3 -3 -1 0 -2 -1 1 -12 -9 -5 0 -5 9 -2 12 -4 3 -1 -8 -4 2 -1 -6 -3 2 -1 -5 -2 1 -1 -4 -2 1 -1 -3 -2 1 -3 -4 -8 -2 -6 5 -6 9 -5 12 -1 10 -5 5 -2 -3 1 -8 5 -12 -14 9 0 -5 9 -15 -10 7 -2 -2 10 -13 -1 -1 -4 3 -2 -2 9 -10 -4 0 8 -9 -1 -2 2 -2 -30 6 -13 0 -1 -1 2 -2 -6 0 -3 -6 -10 4 -3 4 -46 31 -17 14 -26 27 -12 17 -8 17 -3 12 1 16 3 7 6 8 14 8 7 2 28 1 28 -6 17 -6 29 -14 33 -21 51 -41 18 -20 19 -2 15 -8 6 5 6 2 13 -5 5 -5zM549 656l-8 11 7 -6zM581 626l-3 -1 1 -3 -12 -14 -22 14 -6 6 -4 7 4 5 6 3 9 1 19 -10 2 -3 4 -1z"/>
<path fill="#a4e645" d="M690 705l0 13 6 5 8 1 11 -5 -1 -6 -5 -5 -12 -5zM653 702l-3 9 0 8 5 7 4 2 12 -1 13 -5 -5 -7 -6 -3 -11 -10 -4 -2 -3 0zM652 729l-4 -1 -5 -5 -1 -6 -4 3 -1 -7 -3 2 -1 -5 -3 1 -3 -6 -3 0 -1 -2 -1 1 -4 -4 -7 0 -10 16 -3 13 1 6 -6 6 -2 -3 0 -9 3 -11 -13 9 -1 -1 2 -8 7 -12 -10 7 -2 -2 9 -13 -6 3 -2 -1 10 -12 -5 0 7 -7 4 -8 -22 5 -27 1 -1 -1 5 -3 -3 -3 -5 3 -1 -2 2 -2 -4 1 -36 24 -25 19 -33 33 -12 17 -8 17 -3 12 1 16 3 7 6 8 14 8 12 3 31 -1 29 -8 37 -17 40 -26 44 -36zM575 626l-3 -1 1 -2 -6 -9 -6 -3 -16 11 -6 6 -4 7 4 5 11 4 23 -12z"/>
<path fill="#b2e43d" d="M690 709l1 9 5 5 7 1 8 -4 0 -2 -9 -7 -8 -3zM652 706l-1 14 5 6 15 1 9 -3 -6 -7 -1 1 -14 -12zM646 729l-4 -5 -4 3 -2 -3 0 -5 -4 1 -1 -5 -3 2 -1 -5 -2 1 -1 -3 -3 -1 0 -2 -1 1 -4 -3 -7 -1 -6 8 -4 10 0 13 2 6 -6 5 -4 -4 -1 -4 2 -16 -12 9 -2 -1 0 -3 8 -17 -11 8 -1 -1 9 -16 -7 4 -1 -1 8 -12 -3 2 -2 -1 7 -8 0 -4 5 -5 -16 4 -24 2 0 -2 -13 0 -1 -3 2 -4 -51 34 -17 14 -26 27 -12 17 -8 17 -3 12 1 16 3 7 6 8 14 8 12 3 31 -1 29 -8 37 -17 44 -29 32 -26 9 -9 8 -12 -3 -3zM569 627l-6 -9 -6 -4 -12 8 -6 6 -4 7 4 5 6 3 4 0 17 -9z"/>
<path fill="#c1e436" d="M691 715l2 6 6 3 6 -2 -3 -4 -6 -3zM652 711l-1 8 4 6 4 2 15 -1 -3 -5 -2 0 -7 -7 -8 -4zM641 733l-6 -8 -3 2 -2 -1 -1 -6 -3 2 -1 -5 -3 1 -1 -3 -3 -1 0 -2 -1 1 -5 -4 -4 -1 -5 5 -4 10 1 14 4 5 5 3 14 1 -11 4 -16 -1 -4 -4 -2 -6 1 -13 -13 10 -2 -1 6 -19 -10 7 -2 -1 10 -17 -8 5 -2 -1 10 -14 -4 3 -2 -1 7 -9 -1 -3 6 -6 -26 5 -16 0 -1 -3 -7 0 0 -5 -4 0 -30 20 -25 19 -26 25 -12 14 -7 11 -9 20 -2 9 1 16 3 7 6 8 14 8 12 3 31 -1 29 -8 37 -17 44 -29 35 -29 10 -13zM554 617l-9 5 -10 12 4 6 6 3 15 -7 2 -3 4 -2 -3 -1 1 -2z"/>
<path fill="#d0e332" d="M652 716l0 3 4 6 4 2 7 0 -3 -5zM639 742l-6 2 -1 -1 4 -4 0 -3 -6 -5 -1 -4 -4 1 -2 -5 -2 1 -2 -4 -2 1 -1 -3 -10 -5 -3 2 -3 6 -1 11 2 6 8 6 10 1 10 -2 0 2 -18 6 -14 -1 -4 -3 -3 -5 -1 -11 -13 10 -2 -2 6 -19 -11 7 -1 -3 8 -15 -7 5 -2 -2 8 -11 -4 1 -1 -2 8 -9 -2 1 -1 -2 6 -7 -4 -1 -20 4 -23 0 -1 -1 4 -3 -3 -3 -4 2 -1 -1 2 -3 -29 19 -25 19 -26 25 -12 14 -7 11 -9 20 -2 9 1 16 3 7 6 8 14 8 7 2 28 1 28 -6 17 -6 29 -14 33 -21 37 -29zM549 619l-10 9 -4 6 1 3 5 4 7 -1 12 -7 -3 -6z"/>
<path fill="#e0e32e" d="M601 720l-1 15 4 6 6 3 12 0 8 -3 0 -2 -5 -4 -2 -6 -3 1 -2 -4 -3 0 -1 -3 -2 1 -2 -3 -7 -3zM635 745l-12 6 -2 -1 1 -1 -13 3 -7 0 -6 -2 -5 -5 -3 -8 -13 10 -1 -11 4 -12 -12 8 -1 -2 8 -16 -8 5 -2 -1 5 -9 4 -4 -5 2 -2 -1 8 -10 -2 0 -1 -2 7 -8 -7 -1 -4 2 -2 -1 -15 3 -11 0 -1 -2 -9 1 -3 -2 0 -2 4 -6 -52 37 -26 25 -12 14 -7 11 -9 20 -2 9 1 16 3 7 6 8 14 8 7 2 28 1 28 -6 17 -6 29 -14 33 -21 37 -29zM545 622l-10 12 4 6 4 0 11 -5 -2 -5z"/>
<path fill="#eee32b" d="M600 726l0 8 5 7 8 3 6 0 4 -2 0 -2 -5 -6 -3 -1 -3 -4 -1 1 -2 -3 -6 -3zM631 749l-20 7 -1 -2 2 -2 -15 -1 -9 -8 -10 9 -2 0 -3 -6 2 -16 -10 7 -3 0 7 -18 -8 5 -2 -1 8 -12 0 -2 -4 3 -2 -2 8 -10 -5 0 8 -9 -2 -1 2 -3 -17 4 -25 0 -1 -1 2 -2 -5 0 -2 -2 1 -5 -23 15 -25 19 -26 25 -12 14 -7 11 -9 20 -2 9 1 16 3 7 6 8 14 8 7 2 28 1 28 -6 26 -10 38 -21 22 -15 24 -19zM541 626l-6 8 3 5 9 -3 -1 -5z"/>
<path fill="#f6e028" d="M601 731l0 4 3 5 6 3 5 0 0 -3 -2 -2 -2 0 -6 -6zM626 753l-4 0 -22 8 -8 0 -1 -2 7 -6 -4 -2 -10 9 -4 -1 -5 -5 -2 -5 0 -14 -9 7 -3 0 0 -5 6 -14 -9 6 -2 -1 8 -14 -6 3 -1 -1 7 -11 -5 0 7 -9 -2 -1 4 -5 -20 4 -28 -1 -1 -1 4 -4 -5 3 -1 -3 2 -3 -28 19 -21 17 -31 33 -7 11 -9 20 -2 9 1 16 3 7 6 8 17 9 9 2 23 0 21 -4 24 -8 36 -18 26 -17 32 -25zM537 631l-2 4 1 2 4 0 1 -2z"/>
<path fill="#f7db25" d="M621 757l-6 2 -5 -1 -12 4 -13 0 -5 -2 -5 -5 -2 -4 -1 -11 -12 8 0 -9 4 -10 -10 6 -1 -3 8 -14 -7 4 -1 -2 7 -10 -6 0 8 -10 -2 1 -1 -2 4 -5 -23 3 -16 0 0 -3 -8 0 -2 -2 2 -5 -25 17 -21 17 -31 33 -7 11 -9 20 -2 9 1 16 3 7 6 8 17 9 9 2 23 0 21 -4 24 -8 36 -18 26 -17 25 -19z"/>
<path fill="#f6d123" d="M616 761l-4 0 -9 3 0 -2 -20 0 -8 -6 -3 -9 -2 0 -10 8 -2 -3 0 -5 3 -13 -7 5 -3 0 1 -6 5 -10 -6 4 -2 -1 7 -12 -4 1 -1 -2 5 -7 -3 -1 5 -6 -2 0 -1 -2 -21 3 -9 -2 -9 1 -1 -2 2 -2 -4 -3 -2 1 0 -3 -41 31 -31 33 -7 11 -9 20 -2 9 1 16 3 7 6 8 17 9 9 2 23 0 21 -4 24 -8 36 -18 46 -32z"/>
<path fill="#f5c422" d="M610 766l-6 -1 -3 2 -11 2 -1 -1 4 -4 -12 -2 -8 -8 -2 0 -10 8 -3 -5 1 -18 -10 7 -1 -4 5 -13 -7 4 -1 -1 7 -13 -6 3 -1 -1 7 -10 -4 -1 4 -6 -3 1 0 -3 -2 -2 -7 2 -22 0 -1 -2 -9 0 -2 -2 2 -6 -38 29 -31 33 -7 11 -9 20 -2 9 1 16 3 7 6 8 14 8 12 3 23 0 13 -2 32 -10 36 -18 42 -29 7 -9z"/>
<path fill="#f3b623" d="M604 772l-6 -3 -11 2 -16 0 -8 -4 -5 -8 -1 -14 -8 6 -3 0 4 -17 -8 5 -1 -1 7 -14 -6 3 -1 -1 6 -10 -4 0 4 -7 -3 1 0 -3 -2 0 0 -2 -3 -1 -31 0 -1 -1 2 -2 -7 -4 2 -2 -34 26 -31 33 -7 11 -9 20 -2 9 1 16 3 7 6 8 14 8 12 3 23 0 13 -2 32 -10 29 -14 44 -29z"/>
<path fill="#f2a824" d="M597 777l-2 -3 -5 0 -1 -1 2 -2 -20 1 -5 -2 -7 -7 -3 -11 -10 7 -1 -11 3 -8 -9 5 -1 -1 6 -14 -5 2 -2 -1 6 -10 -5 0 4 -7 -3 2 0 -4 -3 1 0 -3 -2 -2 -24 0 -1 -2 -10 -1 -1 -6 -28 22 -31 33 -7 11 -9 20 -2 9 1 16 3 7 6 8 14 8 12 3 31 -1 37 -11 29 -14 40 -26z"/>
<path fill="#ef9a24" d="M591 781l-3 -4 -9 1 -1 -2 3 -3 -8 0 -8 -3 -7 -7 -1 -4 -11 7 -2 -3 1 -17 -8 5 -1 -5 4 -11 -5 3 -2 -1 5 -9 0 -2 -3 2 -2 -1 3 -7 -3 2 0 -4 -3 -1 1 -2 -2 1 -1 -3 -3 -2 -25 -1 -1 -2 2 -1 -6 -3 -1 -2 -24 19 -31 33 -15 28 -3 12 0 10 3 11 7 10 14 8 12 3 31 -1 37 -11 29 -14 33 -21 3 -3z"/>
<path fill="#ec8a21" d="M585 786l-3 -1 0 -2 -4 -1 2 -3 -15 1 -13 -4 -8 -10 -1 -14 -8 5 -2 -1 4 -15 -5 3 -3 -1 5 -10 -6 0 4 -7 -4 1 0 -4 -2 1 -1 -3 -2 0 0 -2 -2 0 -1 -3 -4 -2 -16 0 -1 -3 -7 0 -2 -3 1 -4 -21 17 -31 33 -15 28 -3 12 0 10 4 13 6 8 14 8 12 3 23 0 28 -6 26 -10 38 -21 12 -8z"/>
<path fill="#e87c20" d="M579 792l-2 -4 -7 -4 2 -3 -15 -1 -8 -5 -5 -7 -2 -9 -9 6 -1 -10 2 -8 -7 4 -1 -3 4 -10 -5 3 -1 -1 3 -8 -4 2 0 -5 -3 1 0 -4 -3 1 0 -3 -2 0 -6 -6 -10 -1 -2 -2 -8 0 -1 -1 2 -3 -4 2 -1 -1 2 -5 -17 14 -31 33 -15 28 -3 12 0 10 4 13 6 8 14 8 12 3 23 0 21 -4 24 -8 36 -18 17 -11z"/>
<path fill="#e66f1f" d="M570 793l-5 -3 2 -2 -9 -2 4 -4 -9 -3 -8 -7 -2 -4 -10 5 -2 -5 1 -13 -1 -1 -6 4 -2 -1 3 -12 -4 2 -2 -1 2 -7 -4 2 -1 -1 2 -6 -4 2 0 -4 -3 1 0 -3 -2 0 -1 -3 -4 -1 0 -2 -4 -3 -10 -1 -2 -2 1 -1 -5 -1 -3 -5 -31 29 -14 17 -13 25 -3 12 0 10 4 13 6 8 14 8 12 3 23 0 21 -4 24 -8 36 -18 11 -7z"/>
<path fill="#e35f1f" d="M421 794l1 16 3 7 6 8 14 8 12 3 23 0 28 -6 26 -10 31 -17 -1 -4 -4 -4 1 -1 -5 -2 3 -3 -14 -2 -10 -7 -4 -8 -1 -11 -7 4 -2 -1 2 -13 -6 4 -1 -1 2 -9 -5 3 -1 -2 2 -4 -4 1 0 -5 -4 0 1 -3 -3 1 -1 -3 -6 -6 -1 1 -2 -3 -6 -1 -1 -3 -7 0 -2 -2 0 -4 -8 6 -31 33 -13 23z"/>
<path fill="#e14d1f" d="M421 794l1 16 3 7 6 8 14 8 12 3 23 0 28 -6 26 -10 24 -13 -2 -6 -5 -3 2 -3 -5 0 -3 -2 4 -4 -7 -2 -10 -10 -2 -7 -8 5 -2 -2 0 -14 -5 3 -2 -1 1 -9 -5 3 0 -7 -4 2 0 -6 -3 2 0 -5 -4 0 1 -3 -2 1 -1 -2 -2 0 -1 -3 -8 -6 -2 0 0 -2 -8 -1 -2 -2 0 -4 -22 21 -12 14 -13 23z"/>
<path fill="#e03e20" d="M421 794l1 16 3 7 6 8 14 8 12 3 23 0 21 -4 24 -8 26 -13 -3 -7 -3 -1 1 -2 -6 -2 4 -3 -11 -3 -11 -10 -3 -8 0 -7 -1 -1 -7 4 0 -11 -6 3 0 -8 -4 2 0 -6 -4 2 0 -5 -3 1 0 -4 -4 -1 1 -2 -2 0 -1 -2 -1 1 -3 -4 -7 -4 0 -2 -5 -1 -2 -2 1 -1 -2 1 -2 -4 -16 16 -14 17 -11 20z"/>
<path fill="#de3223" d="M422 789l-1 15 4 13 6 8 14 8 7 2 28 1 13 -2 32 -10 18 -9 0 -3 -4 -4 1 -2 -3 0 -2 -2 3 -2 -10 -3 4 -5 -11 -10 -3 -6 -7 4 -2 -3 0 -10 -6 3 -2 -2 1 -7 -5 2 -1 -7 -3 2 -1 -5 -3 1 0 -4 -2 0 -6 -8 -2 0 -8 -6 -1 -3 -6 -1 -2 -4 -11 10 -12 14 -13 23z"/>
<path fill="#d82824" d="M423 785l-2 9 0 10 4 13 6 8 17 9 9 2 31 -1 29 -8 19 -9 -4 -7 -3 -2 2 -2 -7 -2 2 -4 -12 -8 -4 -6 -3 -8 -6 3 -2 -4 0 -7 -5 3 0 -8 -5 2 -1 -6 -3 1 -1 -4 -3 -1 0 -3 -2 1 -1 -3 -3 -1 0 -2 -1 1 -5 -6 -5 -2 -2 -2 1 -1 -7 -5 -19 22z"/>
<path fill="#ce2222" d="M444 748l-12 17 -8 17 -3 12 1 16 3 7 6 8 14 8 7 2 28 1 28 -6 20 -8 -1 -4 -5 -4 1 -2 -5 -2 2 -3 -10 -5 -7 -7 -5 -14 -6 3 -2 -10 -4 2 -1 -7 -4 2 -1 -5 -4 -1 1 -3 -2 1 -1 -4 -3 0 -18 -17 -3 0z"/>
<path fill="#c01c20" d="M444 748l-12 17 -8 17 -3 12 1 16 3 7 6 8 14 8 12 3 31 -1 31 -9 0 -5 -4 -3 0 -2 -4 -2 2 -2 -7 -3 -6 -5 4 -4 -2 -2 -4 3 -3 -2 -5 -9 -1 -6 -5 2 -2 -8 -4 2 -1 -1 0 -6 -3 1 -1 -4 -4 -1 0 -3 -2 1 -1 -3 -2 0 -1 -3 -2 0 -10 -10z"/>
<path fill="#b2181c" d="M439 754l-13 23 -5 17 1 16 3 7 6 8 14 8 12 3 31 -1 23 -6 1 -3 -8 -8 2 -2 -7 -3 -3 -3 3 -3 -7 -9 -6 2 -3 -4 -2 -9 -5 2 -1 -7 -4 1 -1 -6 -3 1 -1 -4 -3 0 -1 -3 -2 0 -2 -3 -4 -2 -6 -7 -4 -1z"/>
<path fill="#a41519" d="M435 761l-9 16 -5 17 1 16 3 7 6 8 14 8 12 3 23 0 23 -5 0 -3 -7 -7 1 -2 -5 -2 -4 -4 3 -2 -7 -9 -5 2 -4 -5 -1 -7 -5 1 -1 -6 -4 0 -1 -5 -3 1 -1 -4 -3 0 -1 -3 -2 0 -6 -7 -7 -4 -2 -4z"/>
<path fill="#991217" d="M431 768l-7 14 -3 12 1 16 3 7 6 8 14 8 12 3 23 0 13 -2 1 -3 -3 -3 0 -2 -13 -12 2 -3 -2 -2 -4 1 -5 -6 -2 -6 -5 -1 -2 -6 -3 1 -2 -4 -3 -1 0 -3 -2 0 -11 -11z"/>
<path fill="#8e1014" d="M427 776l-5 13 -1 15 3 11 7 10 14 8 12 3 28 -1 -7 -10 1 -1 -13 -11 -5 -9 -4 0 -3 -7 -3 1 -1 -4 -3 -1 -2 -4 -1 1 -11 -11z"/>
<path fill="#820d12" d="M424 784l-3 10 1 16 3 7 6 8 17 9 9 2 18 0 -19 -25 -2 1 -5 -8 -3 0 -6 -8z"/>
<path fill="#7d0c10" d="M421 796l1 14 3 7 6 8 14 8 15 3 -3 -2 -2 -6 -7 -6 -2 -4 -5 -1 -3 -6 -7 -4 -1 -4zM454 834l2 -2 1 1 -1 2zM447 831l1 -1 1 2 -1 1z"/>
</g><g transform="scale(0.5)" fill-rule="evenodd">
<path fill="#2b277d" d="M1863 496l-14 -11 -22 -13 -22 -9 -18 -3 -8 5 -7 10 -1 9 2 7 4 6 9 8 11 7 27 12 0 2 -42 -8 -31 -1 -22 4 -10 4 -14 10 -5 8 0 3 3 8 6 7 14 8 27 6 -6 6 -47 15 -24 10 -28 15 -32 23 -21 22 -8 12 -10 23 -3 16 0 13 2 11 6 15 8 12 10 10 10 7 16 8 29 7 42 -1 20 -4 21 -7 31 -15 24 -16 17 -14 26 -27 13 -17 15 -24 20 0 8 -4 9 -8 12 -20 6 -20 2 -15 0 -17 -4 -17 -3 -6 1 -2 4 2 0 -2 -5 -8 -10 -8 -9 -19 -11 -16z"/>
<path fill="#2a2d85" d="M1863 496l-14 -11 -22 -13 -22 -9 -18 -3 -8 5 -7 10 -1 9 2 7 4 6 9 8 11 7 27 12 0 2 -42 -8 -31 -1 -22 4 -10 4 -14 10 -5 8 0 3 3 8 6 7 14 8 27 6 -6 6 -47 15 -24 10 -28 15 -32 23 -21 22 -8 12 -10 23 -3 16 0 13 2 11 6 15 8 12 10 10 10 7 16 8 29 7 42 -1 20 -4 21 -7 31 -15 24 -16 17 -14 26 -27 13 -17 15 -24 20 0 8 -4 9 -8 7 -10 9 -22 4 -23 -1 -21 -3 -3 -7 -3 -12 -1 -19 7 -19 16 -1 -1 8 -14 19 -23 2 -5 -66 12 -26 3 -4 -2 45 -19 0 -4 5 -10 0 -4 -6 -6 1 -1 13 0 19 -12 9 1 12 5 -11 -14z"/>
<path fill="#28338d" d="M1863 496l-14 -11 -22 -13 -22 -9 -18 -3 -8 5 -7 10 -1 9 2 7 4 6 9 8 11 7 27 12 0 2 -42 -8 -31 -1 -22 4 -10 4 -14 10 -5 8 0 3 3 8 6 7 14 8 27 6 -6 6 -47 15 -24 10 -28 15 -32 23 -21 22 -8 12 -10 23 -3 16 0 13 2 11 6 15 8 12 10 10 10 7 16 8 29 7 42 -1 20 -4 21 -7 31 -15 24 -16 17 -14 26 -27 13 -17 15 -24 20 0 8 -4 9 -8 12 -20 6 -20 2 -28 -4 -4 -14 -6 -15 2 -12 4 -18 15 -1 -2 6 -11 16 -21 -1 -2 2 -5 -40 7 -4 -1 -47 5 -3 -2 40 -16 7 -5 0 -4 5 -12 -1 -3 -10 -8 1 -1 13 4 4 -1 23 -14 19 5z"/>
<path fill="#253993" d="M1918 601l-5 -5 -13 -6 -12 0 -18 5 -9 6 -8 8 -1 -2 4 -8 13 -19 1 -11 -43 7 -44 0 -2 -2 14 -5 30 -14 6 -19 -3 -5 -9 -6 -17 -4 -30 -4 -30 1 -23 7 -12 8 -5 6 -2 7 3 8 6 7 14 8 27 6 -6 6 -42 13 -29 12 -21 11 -28 18 -27 25 -13 18 -8 17 -4 14 -1 21 5 20 11 18 14 13 22 12 22 6 49 0 27 -6 26 -10 27 -15 33 -25 26 -27 13 -17 15 -24 20 0 8 -4 9 -8 7 -10 9 -22 3 -14zM1772 475l-1 9 2 7 9 11 15 10 28 13 7 2 7 -1 22 -14 7 0 13 3 -18 -19 -14 -11 -14 -9 -24 -11 -18 -5 -6 0 -8 5z"/>
<path fill="#234099" d="M1918 606l-3 -4 -15 -8 -17 0 -18 6 -13 11 0 -5 13 -22 -1 -13 -16 4 -28 4 -31 1 -4 -1 -2 -3 -6 1 -2 -2 15 -5 31 -15 6 -19 -2 -5 -10 -7 -33 -6 -31 -1 -18 3 -14 5 -12 8 -5 6 -2 7 3 8 6 7 14 8 27 6 -6 6 -42 13 -29 12 -21 11 -28 18 -27 25 -13 18 -8 17 -4 14 -1 21 5 20 8 14 13 14 10 7 16 8 17 5 12 2 35 0 27 -5 26 -9 34 -18 33 -25 26 -27 13 -17 15 -24 20 0 8 -4 9 -8 12 -20 6 -20zM1772 475l-1 9 2 7 9 11 15 10 28 13 9 0 24 -15 11 0 9 2 -15 -16 -14 -11 -14 -9 -24 -11 -18 -5 -6 0 -8 5z"/>
<path fill="#20469f" d="M1916 608l-6 -5 -10 -5 -16 -1 -15 3 -9 5 -9 8 -1 -2 3 -8 7 -12 0 -17 -40 7 -21 2 -29 0 -2 -3 6 -6 25 -9 18 -10 3 -6 3 -15 -2 -4 -11 -7 -28 -5 -31 -1 -18 3 -14 5 -12 8 -5 6 -2 7 3 8 6 7 14 8 27 6 -6 6 -42 13 -29 12 -21 11 -28 18 -27 25 -13 18 -8 17 -4 14 -1 21 5 20 8 14 13 14 10 7 16 8 17 5 12 2 35 0 27 -5 26 -9 34 -18 33 -25 26 -27 13 -17 15 -24 20 0 8 -4 9 -8 7 -10 9 -22 3 -14zM1772 475l-1 9 2 7 9 11 15 10 26 12 7 0 25 -16 13 0 5 2 3 -1 -13 -13 -23 -17 -35 -16 -18 -3 -8 5z"/>
<path fill="#1e4da5" d="M1915 611l-14 -9 -18 -2 -16 3 -13 8 -4 5 -1 -3 2 -6 6 -11 0 -5 -3 -7 2 -2 0 -6 -31 6 -38 5 -30 -1 -1 -3 14 -9 17 -5 24 -12 7 -15 1 -10 -13 -10 -34 -5 -30 1 -23 7 -12 8 -5 6 -2 7 3 8 6 7 14 8 27 6 -6 6 -42 13 -29 12 -21 11 -28 18 -27 25 -13 18 -8 17 -4 14 -1 21 5 20 8 14 13 14 10 7 16 8 17 5 12 2 35 0 27 -5 26 -9 34 -18 33 -25 26 -27 13 -17 15 -24 16 1 7 -2 9 -6 9 -10 8 -15 7 -26zM1772 475l-1 9 2 7 9 11 15 10 24 11 4 0 11 -5 17 -12 20 1 -10 -11 -23 -17 -35 -16 -18 -3 -8 5z"/>
<path fill="#1d54ab" d="M1914 614l-10 -7 -19 -4 -12 1 -11 3 -13 11 -1 -3 6 -14 -3 -10 1 -12 -71 11 -12 0 -4 -2 -9 -1 -2 -2 2 -6 30 -11 21 -11 6 -10 3 -12 -1 -4 -6 -6 -7 -4 -30 -4 -30 1 -23 7 -12 8 -5 6 -2 7 3 8 6 7 14 8 27 6 -6 6 -42 13 -29 12 -21 11 -28 18 -27 25 -13 18 -8 17 -4 14 -1 21 5 20 8 14 13 14 10 7 16 8 17 5 12 2 35 0 27 -5 26 -9 34 -18 33 -25 26 -27 13 -17 15 -24 16 1 7 -2 9 -6 9 -10 8 -15 6 -20zM1772 475l-1 9 2 7 4 6 15 12 26 13 13 -4 20 -14 20 1 -8 -9 -23 -17 -35 -16 -18 -3 -8 5z"/>
<path fill="#1c5ab0" d="M1912 616l-7 -5 -12 -4 -23 0 -13 5 -10 11 0 -6 5 -13 -3 -4 0 -4 -2 -3 2 -12 -49 7 -16 4 -25 -1 0 -3 -4 -1 -2 -3 -6 0 8 -6 26 -9 22 -12 7 -16 1 -10 -11 -10 -18 -3 -31 -1 -22 4 -10 4 -14 10 -5 8 1 7 4 7 10 8 11 5 24 5 -6 6 -42 13 -29 12 -21 11 -28 18 -27 25 -13 18 -8 17 -4 14 -1 21 5 20 8 14 13 14 10 7 16 8 17 5 12 2 35 0 23 -4 25 -8 31 -15 24 -16 17 -14 26 -27 13 -17 15 -24 16 1 7 -2 9 -6 9 -10 8 -15 5 -16 0 -5zM1772 475l-1 9 2 7 4 6 15 12 22 11 9 -1 6 -3 20 -14 20 1 -12 -12 -17 -12 -35 -16 -18 -3 -8 5z"/>
<path fill="#1a61b6" d="M1912 621l-5 -5 -11 -5 -19 -2 -11 1 -9 4 -10 11 -2 -2 4 -11 0 -5 -5 -14 2 -11 -66 12 -14 0 -9 -3 -11 -1 -2 -4 5 -6 12 -6 18 -6 20 -11 5 -12 2 -16 -11 -9 -13 -2 -31 -1 -22 4 -10 4 -14 10 -5 8 1 7 4 7 10 8 11 5 24 5 -6 6 -42 13 -29 12 -21 11 -28 18 -27 25 -13 18 -8 17 -4 14 -1 21 5 20 8 14 13 14 10 7 16 8 17 5 12 2 35 0 23 -4 25 -8 31 -15 24 -16 17 -14 26 -27 13 -17 15 -24 16 1 7 -2 9 -6 9 -10 8 -15 4 -12 0 -6zM1772 475l-1 9 2 7 4 6 15 12 17 9 8 0 8 -3 23 -15 19 1 -10 -10 -17 -12 -35 -16 -18 -3 -8 5z"/>
<path fill="#1a68bc" d="M1911 624l-7 -6 -10 -4 -10 -2 -12 0 -14 4 -12 12 -1 -7 3 -10 -4 -4 -2 -7 1 -2 -2 -1 0 -6 2 -4 -1 -3 -32 5 -30 7 -12 0 -24 -6 0 -5 -2 -1 3 -3 11 -4 4 -4 14 -4 21 -13 6 -17 0 -11 -11 -9 -18 -2 -21 0 -22 4 -10 4 -14 10 -5 8 1 7 4 7 10 8 11 5 24 5 -6 6 -42 13 -29 12 -21 11 -28 18 -27 25 -13 18 -8 17 -4 14 -1 21 5 20 8 14 13 14 10 7 16 8 17 5 12 2 35 0 23 -4 25 -8 31 -15 24 -16 17 -14 26 -27 13 -17 15 -24 16 1 7 -2 9 -6 9 -10 8 -15 3 -9zM1771 479l1 9 5 9 9 8 19 11 12 -1 14 -7 13 -9 21 0 -8 -8 -22 -15 -24 -11 -18 -5 -6 0 -8 5 -5 6z"/>
<path fill="#1a72c2" d="M1911 629l-5 -6 -12 -6 -9 -2 -17 0 -15 7 -8 9 -1 -6 2 -11 -7 -10 -1 -9 2 -9 -24 3 -39 9 -25 -3 -2 -2 1 -1 -6 -1 -3 -3 0 -2 -4 0 4 -4 12 -5 2 -4 9 -2 11 -5 12 -8 3 -4 0 -4 5 -11 0 -11 -9 -9 -5 -1 -31 -1 -22 4 -10 4 -14 10 -5 8 1 7 4 7 10 8 11 5 24 5 -6 6 -42 13 -29 12 -21 11 -28 18 -27 25 -13 18 -8 17 -4 14 -1 21 5 20 8 14 13 14 10 7 25 11 20 4 35 0 37 -8 37 -16 38 -26 34 -34 13 -17 15 -24 20 0 8 -4 9 -8 12 -20 2 -6zM1771 479l1 9 5 9 9 8 15 9 14 -2 27 -15 21 0 -6 -6 -22 -15 -24 -11 -18 -5 -6 0 -8 5 -5 6z"/>
<path fill="#1a7ac9" d="M1910 633l-5 -7 -9 -5 -11 -3 -13 -1 -19 8 -8 9 -2 -2 2 -14 -5 -5 -4 -12 1 -13 -20 2 -37 9 -16 0 -20 -6 2 -1 -5 -4 -5 1 0 -4 6 -4 -40 13 -29 12 -36 20 -24 18 -21 22 -14 24 -6 19 -1 21 5 20 8 14 13 14 10 7 25 11 20 4 35 0 37 -8 37 -16 38 -26 34 -34 13 -17 15 -24 20 0 8 -4 9 -8 12 -20zM1781 518l-30 -1 -22 4 -10 4 -14 10 -5 8 1 7 4 7 10 8 18 7 16 2 1 1 -4 5 8 -4 -3 -2 17 -6 16 -11 7 -21 0 -9zM1771 479l1 9 5 9 20 15 14 -2 27 -15 23 0 -26 -19 -24 -11 -18 -5 -6 0 -8 5 -5 6z"/>
<path fill="#1a84cf" d="M1907 632l-14 -9 -19 -3 -22 9 -8 8 0 -15 -5 -5 -5 -10 1 -18 -22 3 -36 9 -16 -1 -14 -5 -3 1 -8 -2 -4 -3 2 -3 -1 -2 3 -3 -34 11 -29 12 -36 20 -24 18 -21 22 -14 24 -6 19 -1 21 5 20 8 14 13 14 10 7 25 11 20 4 35 0 37 -8 37 -16 38 -26 34 -34 13 -17 15 -24 16 1 7 -2 9 -6 9 -10 8 -15 0 -4zM1753 576l-3 -1 -4 4zM1785 525l-8 -7 -5 -1 -21 0 -22 4 -10 4 -14 10 -5 8 1 7 8 11 14 8 22 5 17 -5 15 -10 4 -7 4 -13zM1771 479l1 9 5 9 15 12 14 -1 30 -16 23 1 -24 -17 -24 -11 -18 -5 -6 0 -8 5 -5 6z"/>
<path fill="#1a8cd4" d="M1907 637l-5 -6 -7 -4 -9 -3 -11 -1 -16 8 -8 2 -7 9 -1 -16 -7 -7 -4 -9 0 -19 -14 1 -38 10 -18 0 -4 -2 -14 -2 -3 -3 -7 -1 -2 -2 0 -3 -2 -1 5 -5 -33 11 -29 12 -36 20 -24 18 -21 22 -14 24 -4 11 -3 16 0 13 2 11 6 15 8 12 14 13 22 12 29 7 35 0 34 -7 40 -17 38 -26 34 -34 13 -17 15 -24 20 0 8 -4 9 -8 11 -18zM1751 576l-2 0 -3 3zM1779 524l-8 -7 -20 0 -22 4 -10 4 -14 10 -5 8 1 7 8 11 14 8 15 4 14 -2 11 -5 10 -9 7 -21zM1771 479l1 9 5 9 9 8 8 2 14 -4 23 -13 8 0 7 2 11 -1 -17 -12 -29 -14 -18 -5 -6 0 -8 5 -5 6z"/>
<path fill="#1a94d6" d="M1906 640l-8 -8 -18 -6 -5 1 -18 9 -6 1 -4 3 -3 5 -2 -3 0 -13 -7 -6 -6 -13 1 -18 -12 1 -37 10 -22 0 -21 -5 0 -2 -5 -2 -2 -3 -5 -1 3 -5 -27 9 -39 17 -26 15 -24 18 -21 22 -14 24 -4 11 -3 16 0 13 2 11 6 15 8 12 14 13 22 12 29 7 35 0 34 -7 40 -17 38 -26 34 -34 13 -17 15 -24 20 0 8 -4 9 -8 10 -16zM1774 525l-9 -8 -14 0 -22 4 -10 4 -14 10 -5 8 1 7 8 11 14 8 15 4 12 -3 11 -6 6 -6 7 -20zM1771 479l1 9 5 9 5 5 6 2 15 -3 26 -14 15 3 10 0 -5 -5 -22 -13 -16 -7 -18 -5 -6 0 -8 5 -5 6z"/>
<path fill="#1a9cda" d="M1905 644l-2 -4 -9 -7 -8 -3 -6 0 -23 11 -7 1 -6 6 -2 -3 0 -13 -7 -4 -7 -11 -2 -12 2 -8 -1 -4 -17 3 -26 8 -17 1 -17 -2 -4 -2 -5 0 -1 -2 -9 -1 -3 -2 3 -2 -7 1 -1 -2 3 -7 -53 20 -28 15 -26 18 -22 21 -13 18 -10 23 -3 16 0 13 2 11 6 15 8 12 14 13 22 12 29 7 35 0 34 -7 40 -17 38 -26 34 -34 13 -17 14 -23 17 0 12 -5 9 -8 7 -10zM1768 525l-8 -8 -18 1 -13 3 -10 4 -14 10 -5 8 1 7 8 11 14 8 10 3 12 -2 11 -6 5 -5 7 -21zM1771 479l2 12 7 9 5 1 15 -3 26 -14 17 4 9 0 -12 -9 -29 -14 -18 -5 -6 0 -8 5 -5 6z"/>
<path fill="#1aa4de" d="M1903 645l-8 -8 -9 -3 -18 6 -13 7 -5 0 -5 6 -3 -7 -1 -10 -7 -4 -8 -10 -2 -11 2 -15 -1 -2 -15 3 -25 8 -24 1 -14 -2 -4 -2 -1 1 -7 -2 -1 -2 -7 -1 -5 -3 -1 -5 2 -3 -50 19 -28 15 -26 18 -22 21 -13 18 -10 23 -3 16 0 13 2 11 6 15 8 12 14 13 22 12 29 7 35 0 34 -7 40 -17 38 -26 34 -34 13 -17 15 -24 20 0 8 -4 9 -8 5 -7zM1761 524l-3 -4 -7 -3 -18 3 -14 5 -12 8 -7 10 1 7 8 11 14 8 9 2 12 -3 8 -5 4 -5 0 -4 6 -17zM1771 479l1 9 5 9 7 1 12 -3 24 -13 9 0 17 5 4 -1 -23 -14 -16 -7 -18 -5 -6 0 -8 5 -5 6z"/>
<path fill="#1aace2" d="M1899 647l-6 -6 -11 0 -12 4 -13 7 -6 0 -5 5 -3 -5 -2 -13 -12 -6 -6 -7 1 -2 -3 -7 2 -21 -9 1 -33 10 -27 0 -16 -3 -2 -2 -6 0 -9 -8 -4 -1 3 -5 -47 18 -28 15 -26 18 -22 21 -13 18 -10 23 -3 16 0 13 2 11 6 15 8 12 14 13 22 12 29 7 35 0 34 -7 40 -17 38 -26 34 -34 23 -32 4 -9 21 0 8 -4 9 -8 2 -9zM1748 518l-19 3 -10 4 -12 8 -7 10 1 7 4 7 10 8 11 5 9 -1 10 -5 5 -6 0 -5 6 -18 -1 -10zM1771 479l2 12 5 3 14 -2 25 -13 7 0 23 6 -7 -6 -29 -14 -18 -5 -6 0 -8 5 -5 6z"/>
<path fill="#1ab4e6" d="M1894 655l-2 -4 -4 -2 -9 0 -12 4 -11 6 -4 -1 -4 3 -4 -5 -3 -13 -11 -3 -11 -13 -1 -16 3 -14 -39 11 -24 1 -20 -3 -2 -2 -18 -4 -4 -3 1 -6 2 -2 -44 17 -28 15 -26 18 -22 21 -13 18 -10 23 -3 16 0 13 2 11 6 15 8 12 14 13 22 12 29 7 35 0 27 -5 26 -9 21 -10 33 -22 13 -11 26 -27 23 -32 1 -6 3 -4 6 2 11 0 9 -3 8 -6zM1744 520l-6 -1 -9 2 -10 4 -14 10 -5 8 0 3 3 8 6 7 15 8 10 -2 9 -7 6 -24 0 -8zM1771 479l1 9 3 2 14 -2 24 -12 7 0 24 6 -9 -6 -17 -8 -25 -8 -6 0 -8 5 -5 6z"/>
<path fill="#1bc0eb" d="M1886 663l-4 -4 -7 0 -16 7 -6 -1 -1 2 -4 -3 -3 -5 -4 -12 -11 -2 -8 -5 -6 -9 -2 -8 0 -8 5 -16 -8 1 -29 9 -33 1 -22 -5 -12 -5 -2 -5 -2 -1 3 -4 -41 16 -28 15 -26 18 -22 21 -13 18 -10 23 -3 16 1 20 4 13 11 18 14 13 22 12 29 7 35 0 23 -4 37 -13 19 -10 28 -19 13 -11 26 -27 21 -29 3 -11 2 -2 7 2 11 0 9 -3 1 -4zM1734 520l-15 5 -14 10 -5 8 1 7 4 7 14 10 10 -1 4 -2 5 -6 -1 -6 4 -10 1 -12 -3 -7zM1771 484l15 0 22 -11 8 0 22 5 -27 -13 -18 -5 -6 0 -8 5 -5 6 -3 8z"/>
<path fill="#1dd0f1" d="M1863 674l3 2 6 0zM1816 601l-5 0 -13 5 -21 5 -32 0 -25 -6 -8 -7 -4 1 0 -5 3 -3 -38 15 -42 24 -18 14 -16 16 -13 18 -8 17 -4 14 -1 21 5 20 8 14 17 17 22 12 29 7 35 0 23 -4 25 -8 26 -12 22 -14 24 -19 26 -27 19 -26 5 -17 -8 -7 -8 -15 -7 0 -2 -2 -1 1 -2 -2 -3 0 -11 -9 -3 -6 1 -1 -2 -5 0 -11zM1729 523l-5 0 -13 7 -6 5 -5 8 1 7 4 7 10 8 10 -1 6 -5 -1 -8 4 -11 0 -10 -2 -5zM1772 479l11 0 22 -10 24 4 -24 -10 -18 -3 -10 7 -5 8z"/>
<path fill="#1fdaf1" d="M1811 603l-33 9 -34 1 -16 -3 -10 -5 -10 -2 -3 -3 1 -3 -2 -1 4 -4 -35 14 -42 24 -18 14 -16 16 -13 18 -8 17 -4 14 -1 21 5 20 8 14 17 17 22 12 29 7 35 0 23 -4 25 -8 26 -12 22 -14 24 -19 26 -27 17 -23 6 -20 -9 -9 -5 -10 -11 1 -9 -4 -1 -2 -1 1 -9 -9 -1 -5 -2 -1 -1 -16 5 -14zM1720 526l-6 2 -7 5 -7 10 3 11 9 9 6 0 6 -4 -1 -12 2 -3 1 -11 -2 -5zM1774 472l7 1 19 -8 15 2 -10 -4 -18 -3 -8 5z"/>
<path fill="#21deeb" d="M1855 673l-7 -7 -5 -9 -20 0 -14 -12 -5 -13 0 -14 3 -7 0 -3 -2 -2 -33 8 -26 1 -18 -3 -9 -4 -5 0 -2 -3 -4 -1 -7 -5 1 -5 -29 12 -36 20 -24 18 -16 16 -13 18 -10 23 -3 16 1 20 4 13 11 18 14 13 22 12 29 7 35 0 23 -4 25 -8 26 -12 38 -26 27 -26 20 -25zM1709 532l-7 7 -2 7 5 11 3 3 5 0 3 -2 0 -5 -2 -3 2 -7 0 -8 -2 -3z"/>
<path fill="#29e1de" d="M1854 672l-8 -8 -2 -4 -10 2 -8 -2 -2 1 -5 -2 -1 -2 -1 1 -10 -9 -6 -12 -1 -13 3 -12 -3 -3 -32 7 -30 0 -16 -3 -10 -5 -10 -2 -4 -3 0 -6 2 -2 -27 11 -36 20 -24 18 -16 16 -13 18 -10 23 -3 16 1 20 4 13 11 18 14 13 22 12 29 7 35 0 23 -4 25 -8 26 -12 38 -26 27 -26 20 -25 1 -6 7 -17zM1700 545l3 9 4 1 0 -4 -5 -6z"/>
<path fill="#36e3ca" d="M1853 673l-9 -9 -18 1 -9 -4 -2 1 -8 -9 -2 0 0 -2 -4 -4 1 -2 -4 -5 0 -22 -4 -6 -32 6 -25 0 -15 -3 -9 -4 -5 0 -1 -2 -6 -2 -4 -5 -3 -1 3 -5 -24 10 -36 20 -24 18 -16 16 -13 18 -10 23 -3 16 1 20 4 13 11 18 14 13 22 12 29 7 35 0 23 -4 25 -8 26 -12 38 -26 27 -26 17 -21z"/>
<path fill="#46e4b4" d="M1849 677l-12 -9 -15 0 -4 -3 -4 0 -1 -2 -1 1 -9 -8 0 -2 -2 0 0 -2 -4 -4 1 -3 -2 -1 -2 -7 0 -16 -6 -6 -33 5 -14 0 -21 -3 -21 -7 -1 -4 -5 1 -2 -3 0 -4 2 -2 -20 8 -36 20 -24 18 -16 16 -13 18 -10 23 -3 16 1 20 4 13 11 18 14 13 22 12 29 7 35 0 23 -4 25 -8 26 -12 38 -26 27 -26 14 -17 10 -26z"/>
<path fill="#56e69c" d="M1845 682l-3 -1 -11 -10 -10 0 -11 -4 -1 -2 -5 -2 0 -2 -7 -7 -3 -8 -2 -1 -2 -18 -7 -8 -8 -1 -14 3 -15 1 -17 -1 -20 -5 -16 -7 -3 -4 -3 -1 3 -5 -27 12 -26 15 -24 18 -16 16 -13 18 -10 23 -3 16 1 20 4 13 11 18 14 13 22 12 29 7 35 0 23 -4 25 -8 26 -12 38 -26 27 -26 13 -16 7 -20z"/>
<path fill="#69e684" d="M1842 688l-15 -13 -5 -2 -4 1 -4 -3 -2 1 -1 -2 -2 1 -6 -6 -2 0 -3 -3 0 -3 -2 1 -3 -4 -1 -6 -3 -4 -3 -14 -12 -12 -16 3 -28 0 -21 -4 -2 -2 -4 0 -4 -3 -4 0 -5 -3 1 -2 -4 1 -3 -6 1 -3 -22 10 -32 19 -18 14 -21 22 -8 12 -10 23 -3 16 1 20 4 13 11 18 14 13 22 12 29 7 35 0 34 -7 26 -10 19 -10 28 -19 13 -11 29 -31 7 -19z"/>
<path fill="#7ce86a" d="M1821 678l-5 -2 -2 1 -1 -2 -5 -1 -1 -2 -2 1 -9 -7 -2 -5 -5 -5 -5 -16 -16 -17 -14 2 -34 -1 -15 -5 -4 0 -13 -6 -8 -6 0 -4 -28 14 -28 18 -11 9 -21 22 -8 12 -10 23 -3 16 1 20 4 13 8 14 13 14 10 7 16 8 22 6 49 0 27 -6 26 -10 19 -10 24 -16 17 -14 26 -27 7 -19z"/>
<path fill="#8ce859" d="M1836 702l-21 -21 -8 -3 -1 -2 -2 1 -1 -3 -2 1 -1 -2 -2 0 -1 -3 -1 1 -7 -7 0 -2 -4 -4 0 -3 -2 -1 1 -2 -2 -1 0 -3 -2 -1 1 -2 -8 -7 -9 -11 -37 0 -14 -2 -14 -5 -4 0 -4 -3 -10 -3 -3 -4 0 -6 -26 13 -21 13 -18 14 -16 16 -13 18 -8 17 -4 14 -1 21 5 20 6 11 15 17 10 7 16 8 22 6 42 1 23 -4 25 -8 26 -12 13 -8 25 -18 27 -26 5 -7z"/>
<path fill="#97e64e" d="M1832 707l-21 -21 -2 0 -1 -3 -2 0 -4 -4 -2 1 -1 -3 -6 -3 0 -2 -3 0 -2 -5 -3 -1 0 -3 -4 -4 0 -3 -2 0 0 -3 -24 -25 -30 1 -22 -4 -17 -6 -1 -2 -10 -5 -2 -6 -28 15 -21 14 -11 9 -21 22 -8 12 -10 23 -3 16 0 13 5 20 6 11 15 17 10 7 16 8 22 6 42 1 23 -4 25 -8 26 -12 13 -8 25 -18 27 -26 6 -13z"/>
<path fill="#a4e645" d="M1571 717l1 20 4 13 11 18 14 13 22 12 17 5 12 2 35 0 37 -8 23 -9 19 -10 24 -16 17 -14 17 -17 5 -13 -13 -13 -2 0 -2 -4 -3 -1 -1 -3 -2 0 -2 -4 -3 -1 0 -2 -2 0 -2 -3 -1 1 -5 -6 -1 1 -4 -4 0 -2 -3 -1 0 -3 -2 0 0 -3 -3 -1 -2 -5 -27 -28 -28 0 -28 -6 -2 -2 -16 -6 -5 -6 0 -3 -18 9 -21 13 -18 14 -16 16 -13 18 -6 12 -4 11z"/>
<path fill="#b2e43d" d="M1571 717l0 13 2 11 6 15 8 12 14 13 22 12 29 7 35 0 34 -7 26 -10 27 -15 25 -18 22 -21 4 -10 -5 -7 -4 -2 -8 -9 -1 1 -3 -5 -3 0 -1 -4 -2 0 -1 -3 -2 0 -2 -4 -1 1 -2 -2 0 -2 -2 1 -1 -3 -3 -1 0 -3 -3 0 0 -3 -1 1 -4 -4 0 -2 -3 -1 0 -3 -1 1 -1 -3 -3 -1 0 -2 -4 -3 -2 -4 -2 0 -17 -19 -33 -2 -23 -6 -4 -3 -8 -2 -2 -4 -4 0 -3 -5 1 -3 -22 12 -21 14 -27 25 -13 18 -6 12 -4 11z"/>
<path fill="#c1e436" d="M1571 717l0 13 2 11 6 15 8 12 14 13 22 12 29 7 35 0 34 -7 26 -10 19 -10 28 -19 23 -21 4 -8 -6 -8 -22 -20 0 -2 -3 0 -1 -3 -2 0 -1 -3 -7 -5 0 -3 -2 0 -4 -6 -2 0 -1 -3 -1 1 -1 -3 -3 -1 0 -3 -4 -2 -1 -3 -1 1 -1 -3 -23 -23 -28 -2 -13 -3 -6 -3 -4 0 -20 -11 0 -6 -19 10 -21 14 -27 25 -13 18 -6 12 -4 11z"/>
<path fill="#d0e332" d="M1571 717l0 13 2 11 6 15 8 12 14 13 22 12 29 7 35 0 34 -7 26 -10 19 -10 28 -19 20 -18 3 -7 -18 -19 -3 0 -3 -5 -4 -2 -1 -3 -3 0 0 -3 -4 -2 0 -3 -2 1 -2 -4 -2 0 -1 -3 -3 -1 0 -3 -2 1 -1 -4 -3 0 0 -3 -2 0 -1 -3 -1 1 -2 -2 1 -1 -3 -1 -2 -5 -2 0 -1 -3 -1 1 -1 -3 -21 -21 -32 -4 -16 -5 -17 -8 -5 -6 1 -3 -36 22 -27 25 -13 18 -6 12 -4 11z"/>
<path fill="#e0e32e" d="M1571 717l0 13 2 11 6 15 8 12 14 13 22 12 29 7 42 -1 20 -4 21 -7 26 -12 13 -8 25 -18 13 -13 0 -4 -16 -14 -5 -7 -5 -3 -2 -4 -3 0 -1 -4 -2 0 -2 -4 -2 0 -1 -3 -2 0 -2 -4 -3 -1 0 -3 -2 1 -4 -7 -2 1 -1 -4 -2 0 -1 -3 -1 1 -2 -2 -2 -5 -1 1 -6 -6 0 -2 -22 -21 -17 -1 -23 -6 -9 -5 -10 -3 -4 -4 -2 -4 1 -2 -32 20 -27 25 -13 18 -6 12 -4 11z"/>
<path fill="#eee32b" d="M1572 709l-1 21 2 11 6 15 8 12 14 13 22 12 29 7 42 -1 20 -4 21 -7 26 -12 13 -8 25 -18 8 -7 1 -3 -8 -10 -13 -13 -2 0 -3 -3 -1 -3 -4 -1 -1 -4 -3 0 -1 -3 -4 -3 0 -2 -4 -2 0 -2 -3 0 0 -3 -2 0 -2 -4 -1 1 -2 -2 -2 -5 -2 0 -1 -3 -2 0 -1 -3 -2 0 -1 -3 -4 -2 -1 -3 -24 -24 -26 -4 -17 -6 -2 -2 -5 -1 -7 -6 -3 0 -3 -5 1 -2 -28 18 -27 25 -13 18 -8 17z"/>
<path fill="#f6e028" d="M1572 709l-1 21 2 11 6 15 8 12 10 10 10 7 16 8 22 6 42 1 37 -8 37 -16 22 -14 20 -16 0 -3 -10 -11 -3 -1 -13 -14 -2 0 -3 -6 -2 1 -2 -2 0 -3 -3 0 -2 -5 -2 1 -2 -5 -2 1 -1 -4 -2 0 -2 -4 -1 1 -2 -2 0 -2 -3 0 0 -3 -3 -1 0 -2 -8 -7 0 -2 -4 -2 0 -2 -22 -22 -5 -3 -16 -2 -19 -6 -13 -7 -4 -4 -2 0 -2 -2 1 -4 -25 16 -27 25 -13 18 -8 17z"/>
<path fill="#f7db25" d="M1572 709l-1 21 2 11 6 15 8 12 10 10 10 7 16 8 22 6 42 1 34 -7 40 -17 22 -14 15 -12 -3 -6 -20 -20 -1 1 -5 -7 -3 -1 -2 -4 -3 -1 -2 -4 -4 -2 -1 -3 -3 -1 0 -3 -3 0 -1 -4 -3 0 0 -3 -3 0 0 -3 -2 0 -1 -3 -2 0 -1 -3 -2 0 -1 -3 -5 -4 0 -2 -1 1 -1 -3 -4 -2 -22 -23 -20 -4 -19 -7 -14 -9 -1 -5 -21 13 -27 25 -13 18 -8 17z"/>
<path fill="#f6d123" d="M1572 709l-1 21 2 11 6 15 8 12 10 10 10 7 16 8 17 5 12 2 35 0 34 -7 40 -17 32 -22 0 -2 -9 -8 -3 -5 -5 -3 -11 -13 -2 1 -4 -7 -3 0 -1 -4 -3 -1 -2 -4 -2 0 -2 -4 -2 0 -2 -4 -3 -1 -1 -3 -2 0 0 -2 -9 -8 0 -2 -2 0 -1 -3 -4 -2 -1 -3 -25 -25 -38 -13 -14 -9 -1 -5 -28 20 -21 22 -14 24z"/>
<path fill="#f5c422" d="M1572 709l-1 21 2 11 6 15 8 12 10 10 10 7 16 8 17 5 12 2 35 0 27 -5 33 -12 19 -10 22 -15 -11 -13 -14 -14 -1 1 -7 -9 -3 -1 -2 -5 -2 1 -2 -2 0 -3 -3 0 -2 -5 -2 1 -2 -5 -2 1 -1 -4 -2 0 -2 -4 -2 0 -1 -3 -2 0 -1 -3 -3 -1 0 -2 -8 -7 -2 -4 -1 1 -1 -3 -24 -23 -32 -11 -3 -3 -9 -4 -5 -7 -23 17 -21 22 -14 24z"/>
<path fill="#f3b623" d="M1574 701l-3 16 0 13 5 20 11 18 14 13 22 12 9 3 20 4 35 0 23 -4 37 -13 14 -7 21 -14 -1 -3 -9 -8 -3 -5 -5 -3 -11 -13 -4 -1 -2 -5 -3 -1 -3 -5 -2 0 -2 -4 -8 -6 -4 -7 -2 0 -1 -3 -2 0 -1 -3 -2 0 -1 -3 -2 0 -1 -3 -2 0 -1 -3 -4 -2 -3 -5 -20 -20 -11 -8 -12 -3 -19 -9 -8 -7 0 -3 -20 15 -21 22 -8 12z"/>
<path fill="#f2a824" d="M1576 695l-5 22 1 20 4 13 8 14 13 14 10 7 16 8 29 7 35 0 34 -7 19 -7 21 -10 15 -10 0 -2 -12 -13 -18 -16 -3 -6 -2 0 -4 -6 -2 1 -2 -5 -3 -1 -2 -4 -2 0 -2 -4 -2 0 -2 -4 -2 0 -1 -3 -2 0 -1 -3 -47 -46 -15 -5 -14 -7 -9 -8 0 -2 -16 12 -16 16 -13 18z"/>
<path fill="#ef9a24" d="M1578 690l-4 11 -3 16 1 20 4 13 8 14 13 14 10 7 16 8 29 7 42 -1 20 -4 21 -7 26 -12 9 -6 -6 -9 -9 -8 0 -2 -15 -15 -1 1 -4 -6 -6 -4 -2 -4 -1 1 -2 -2 -1 -4 -3 0 -1 -4 -2 1 -1 -3 -4 -2 0 -3 -2 0 -1 -3 -2 0 -2 -4 -1 1 -1 -3 -5 -3 -1 -3 -39 -37 -12 -4 -20 -12 -1 -4 -12 9 -16 16 -13 18z"/>
<path fill="#ec8a21" d="M1578 690l-4 11 -3 16 1 20 4 13 8 14 13 14 10 7 16 8 29 7 35 0 37 -8 23 -9 17 -9 -2 -5 -12 -11 -1 -3 -13 -11 -5 -8 -3 0 -4 -7 -2 0 -3 -5 -2 0 -2 -4 -2 0 -2 -4 -2 0 -2 -4 -2 0 -2 -4 -35 -35 -20 -17 -15 -7 -13 -10 -7 5 -21 22z"/>
<path fill="#e87c20" d="M1584 678l-8 17 -4 14 0 28 4 13 8 14 13 14 10 7 16 8 22 6 42 1 34 -7 36 -15 -1 -5 -16 -16 -3 -5 -7 -7 -3 0 -5 -8 -3 -1 -3 -5 -3 -1 -2 -4 -8 -6 -1 -4 -1 1 -2 -4 -2 0 -2 -4 -1 1 -2 -4 -2 0 -1 -3 -2 0 -1 -3 -1 1 -1 -3 -3 -1 0 -2 -4 -2 -21 -22 -10 -7 -3 -4 -11 -7 -6 -2 -7 -7 -6 0 -16 16z"/>
<path fill="#e66f1f" d="M1592 666l-8 12 -10 23 -3 16 0 13 2 11 6 15 8 12 14 13 22 12 29 7 35 0 34 -7 30 -12 -1 -4 -29 -31 -6 -4 -3 -6 -2 0 -3 -5 -2 0 -3 -5 -2 0 -2 -4 -2 0 -2 -4 -2 0 -1 -3 -2 0 -2 -4 -38 -37 -3 -1 -28 -23 -8 -3z"/>
<path fill="#e35f1f" d="M1592 666l-8 12 -10 23 -3 16 0 13 2 11 6 15 8 12 10 10 10 7 16 8 29 7 35 0 34 -7 23 -9 -1 -4 -15 -17 -11 -9 -6 -9 -3 -1 -4 -6 -3 -1 -2 -4 -3 -1 -2 -4 -3 -1 -1 -3 -29 -29 -36 -32 -13 -9 -7 -2z"/>
<path fill="#e14d1f" d="M1584 678l-6 12 -4 11 -3 16 1 20 4 13 8 14 13 14 10 7 16 8 29 7 42 -1 20 -4 23 -8 0 -3 -26 -29 -3 -1 -6 -8 -4 -2 -4 -6 -3 -1 -1 -4 -2 0 -10 -10 0 -2 -2 0 -1 -3 -2 0 -10 -12 -4 -2 -13 -14 -4 -2 -23 -21 -15 -10 -4 0z"/>
<path fill="#e03e20" d="M1592 666l-8 12 -10 23 -3 16 0 13 2 11 6 15 8 12 10 10 10 7 16 8 29 7 35 0 27 -5 16 -6 0 -2 -18 -19 -2 -4 -70 -70 -5 -3 -13 -13 -18 -13 -8 -3z"/>
<path fill="#de3223" d="M1590 669l-6 9 -10 23 -3 16 0 13 2 11 6 15 8 12 10 10 10 7 16 8 29 7 35 0 23 -4 13 -4 -4 -7 -19 -21 -13 -12 -3 -5 -4 -2 -1 -3 -4 -2 -1 -3 -3 -1 -1 -3 -3 -1 -1 -3 -15 -15 -45 -39 -12 -7z"/>
<path fill="#d82824" d="M1586 675l-12 26 -3 16 0 13 2 11 6 15 8 12 10 10 10 7 16 8 29 7 35 0 28 -6 -2 -5 -24 -25 -4 -6 -2 0 -6 -8 -3 -1 -2 -4 -3 -1 -2 -4 -5 -5 -2 0 -1 -3 -13 -13 -45 -39 -13 -7z"/>
<path fill="#ce2222" d="M1583 680l-7 15 -4 14 -1 21 2 11 6 15 8 12 10 10 10 7 16 8 22 6 42 1 20 -4 -3 -6 -16 -18 -59 -59 -32 -27 -10 -6z"/>
<path fill="#c01c20" d="M1580 686l-8 23 0 28 4 13 6 11 15 17 10 7 16 8 22 6 42 1 12 -2 -3 -6 -16 -18 -51 -51 -32 -28 -10 -7z"/>
<path fill="#b2181c" d="M1577 693l-6 24 1 20 4 13 6 11 15 17 10 7 16 8 17 5 12 2 38 -1 0 -2 -7 -9 -60 -61 -31 -27 -11 -7z"/>
<path fill="#a41519" d="M1574 701l-3 16 0 13 2 11 9 20 15 17 10 7 25 11 20 4 29 0 -2 -5 -16 -18 -43 -43 -34 -29 -8 -5z"/>
<path fill="#991217" d="M1573 707l-2 10 0 13 5 20 8 14 13 14 10 7 25 11 20 4 20 0 -9 -12 -56 -56 -21 -18 -9 -6z"/>
<path fill="#8e1014" d="M1571 717l1 20 4 13 8 14 13 14 10 7 16 8 22 6 17 1 -15 -18 -38 -38 -28 -24 -7 -4z"/>
<path fill="#820d12" d="M1571 725l1 12 4 13 8 14 13 14 10 7 16 8 17 5 11 1 -21 -24 -30 -29 -23 -19z"/>
<path fill="#7d0c10" d="M1573 739l3 11 11 18 6 6 3 1 -1 1 2 2 1 -1 3 4 8 3 0 2 14 7 11 3 -5 -2 2 -1 -21 -23 -35 -31z"/>
</g>
<line x1="405.0" y1="273.8" x2="224.89" y2="401.56" stroke="#fff" stroke-width="1.7"/>
<path d="M215.10,408.50 L226.25,394.83 L231.69,402.50Z" fill="#fff"/>
<line x1="950.9" y1="275.3" x2="804.40" y2="375.62" stroke="#fff" stroke-width="1.7"/>
<path d="M794.50,382.40 L805.87,368.92 L811.18,376.67Z" fill="#fff"/>
<line x1="253.88" y1="357.13" x2="280.92" y2="388.87" stroke="#fff" stroke-width="1.7"/>
<path d="M246.10,348.00 L260.70,357.89 L253.55,363.99Z" fill="#fff"/>
<path d="M288.70,398.00 L274.10,388.11 L281.25,382.01Z" fill="#fff"/>
<line x1="806.43" y1="330.80" x2="852.37" y2="384.20" stroke="#fff" stroke-width="1.7"/>
<path d="M798.60,321.70 L813.25,331.52 L806.12,337.65Z" fill="#fff"/>
<path d="M860.20,393.30 L845.55,383.48 L852.68,377.35Z" fill="#fff"/>
<path d="M122.97,174.61 L122.51,389.17 L259.62,474.65 L497.63,424.98" fill="none" stroke="#4b4b4d" stroke-width="1.6" stroke-linejoin="miter"/>
<line x1="122.97" y1="174.61" x2="117.29" y2="171.06" stroke="#4b4b4d" stroke-width="1.6"/>
<line x1="122.9" y1="205.26" x2="117.22" y2="201.72" stroke="#4b4b4d" stroke-width="1.6"/>
<line x1="122.84" y1="235.91" x2="117.16" y2="232.37" stroke="#4b4b4d" stroke-width="1.6"/>
<line x1="122.77" y1="266.56" x2="117.09" y2="263.02" stroke="#4b4b4d" stroke-width="1.6"/>
<line x1="122.7" y1="297.22" x2="117.02" y2="293.67" stroke="#4b4b4d" stroke-width="1.6"/>
<line x1="122.64" y1="327.87" x2="116.96" y2="324.33" stroke="#4b4b4d" stroke-width="1.6"/>
<line x1="122.57" y1="358.52" x2="116.89" y2="354.98" stroke="#4b4b4d" stroke-width="1.6"/>
<line x1="122.51" y1="389.17" x2="116.83" y2="385.63" stroke="#4b4b4d" stroke-width="1.6"/>
<line x1="122.51" y1="389.17" x2="115.03" y2="390.73" stroke="#4b4b4d" stroke-width="1.6"/>
<line x1="161.68" y1="413.6" x2="154.2" y2="415.16" stroke="#4b4b4d" stroke-width="1.6"/>
<line x1="200.86" y1="438.02" x2="193.38" y2="439.58" stroke="#4b4b4d" stroke-width="1.6"/>
<line x1="240.03" y1="462.44" x2="232.55" y2="464.0" stroke="#4b4b4d" stroke-width="1.6"/>
<line x1="259.62" y1="474.65" x2="252.14" y2="476.21" stroke="#4b4b4d" stroke-width="1.6"/>
<line x1="259.62" y1="474.65" x2="265.88" y2="478.56" stroke="#4b4b4d" stroke-width="1.6"/>
<line x1="327.62" y1="460.46" x2="333.89" y2="464.37" stroke="#4b4b4d" stroke-width="1.6"/>
<line x1="395.63" y1="446.27" x2="401.89" y2="450.18" stroke="#4b4b4d" stroke-width="1.6"/>
<line x1="463.63" y1="432.07" x2="469.9" y2="435.98" stroke="#4b4b4d" stroke-width="1.6"/>
<path d="M667.97,174.61 L667.51,389.17 L804.62,474.65 L1042.63,424.98" fill="none" stroke="#4b4b4d" stroke-width="1.6" stroke-linejoin="miter"/>
<line x1="667.97" y1="174.61" x2="662.29" y2="171.06" stroke="#4b4b4d" stroke-width="1.6"/>
<line x1="667.9" y1="205.26" x2="662.22" y2="201.72" stroke="#4b4b4d" stroke-width="1.6"/>
<line x1="667.84" y1="235.91" x2="662.16" y2="232.37" stroke="#4b4b4d" stroke-width="1.6"/>
<line x1="667.77" y1="266.56" x2="662.09" y2="263.02" stroke="#4b4b4d" stroke-width="1.6"/>
<line x1="667.7" y1="297.22" x2="662.02" y2="293.67" stroke="#4b4b4d" stroke-width="1.6"/>
<line x1="667.64" y1="327.87" x2="661.96" y2="324.33" stroke="#4b4b4d" stroke-width="1.6"/>
<line x1="667.57" y1="358.52" x2="661.89" y2="354.98" stroke="#4b4b4d" stroke-width="1.6"/>
<line x1="667.51" y1="389.17" x2="661.83" y2="385.63" stroke="#4b4b4d" stroke-width="1.6"/>
<line x1="667.51" y1="389.17" x2="660.03" y2="390.73" stroke="#4b4b4d" stroke-width="1.6"/>
<line x1="706.68" y1="413.6" x2="699.2" y2="415.16" stroke="#4b4b4d" stroke-width="1.6"/>
<line x1="745.86" y1="438.02" x2="738.38" y2="439.58" stroke="#4b4b4d" stroke-width="1.6"/>
<line x1="785.03" y1="462.44" x2="777.55" y2="464.0" stroke="#4b4b4d" stroke-width="1.6"/>
<line x1="804.62" y1="474.65" x2="797.14" y2="476.21" stroke="#4b4b4d" stroke-width="1.6"/>
<line x1="804.62" y1="474.65" x2="810.88" y2="478.56" stroke="#4b4b4d" stroke-width="1.6"/>
<line x1="872.62" y1="460.46" x2="878.89" y2="464.37" stroke="#4b4b4d" stroke-width="1.6"/>
<line x1="940.62" y1="446.27" x2="946.89" y2="450.18" stroke="#4b4b4d" stroke-width="1.6"/>
<line x1="1008.63" y1="432.07" x2="1014.9" y2="435.98" stroke="#4b4b4d" stroke-width="1.6"/>
<text x="118.1" y="43.0" font-size="19" font-weight="bold" font-style="normal" fill="#4a4a4c" text-anchor="start" textLength="96.0" lengthAdjust="spacingAndGlyphs">16x8 array</text>
<text x="117.8" y="84.8" font-size="18.3" font-weight="normal" font-style="normal" fill="#5c5c5e" text-anchor="start" textLength="197.8" lengthAdjust="spacingAndGlyphs">High mainbeam gain</text>
<text x="117.8" y="108.6" font-size="18.3" font-weight="normal" font-style="normal" fill="#5c5c5e" text-anchor="start" textLength="197.8" lengthAdjust="spacingAndGlyphs">but low sidelobe gain</text>
<text x="27.4" y="283.0" font-size="19.5" font-weight="normal" font-style="normal" fill="#5c5c5e" text-anchor="start" textLength="52.1" lengthAdjust="spacingAndGlyphs">Z-axis</text>
<text x="104.1" y="471.9" font-size="19.5" font-weight="normal" font-style="normal" fill="#5c5c5e" text-anchor="start" textLength="52.6" lengthAdjust="spacingAndGlyphs">X-axis</text>
<text x="381.5" y="495.5" font-size="19.5" font-weight="normal" font-style="normal" fill="#5c5c5e" text-anchor="start" textLength="51.5" lengthAdjust="spacingAndGlyphs">Y-axis</text>
<text x="113" y="174.5" font-size="14" font-weight="bold" font-style="normal" fill="#4d4d4f" text-anchor="end">15</text>
<text x="113" y="203.6" font-size="14" font-weight="bold" font-style="normal" fill="#4d4d4f" text-anchor="end">10</text>
<text x="113" y="233.9" font-size="14" font-weight="bold" font-style="normal" fill="#4d4d4f" text-anchor="end">5</text>
<text x="113" y="262.9" font-size="14" font-weight="bold" font-style="normal" fill="#4d4d4f" text-anchor="end">0</text>
<text x="113" y="292.7" font-size="14" font-weight="bold" font-style="normal" fill="#4d4d4f" text-anchor="end">-5</text>
<text x="113" y="323.0" font-size="14" font-weight="bold" font-style="normal" fill="#4d4d4f" text-anchor="end">-10</text>
<text x="113" y="351.7" font-size="14" font-weight="bold" font-style="normal" fill="#4d4d4f" text-anchor="end">-15</text>
<text x="113" y="381.2" font-size="14" font-weight="bold" font-style="normal" fill="#4d4d4f" text-anchor="end">-20</text>
<text x="104.4" y="401.4" font-size="14" font-weight="bold" font-style="normal" fill="#4d4d4f" text-anchor="middle">20</text>
<text x="140.4" y="425.4" font-size="14" font-weight="bold" font-style="normal" fill="#4d4d4f" text-anchor="middle">10</text>
<text x="183.5" y="450.3" font-size="14" font-weight="bold" font-style="normal" fill="#4d4d4f" text-anchor="middle">0</text>
<text x="218.8" y="472.3" font-size="14" font-weight="bold" font-style="normal" fill="#4d4d4f" text-anchor="middle">-10</text>
<text x="280" y="495.0" font-size="14" font-weight="bold" font-style="normal" fill="#4d4d4f" text-anchor="middle">30</text>
<text x="340.5" y="483.0" font-size="14" font-weight="bold" font-style="normal" fill="#4d4d4f" text-anchor="middle">20</text>
<text x="410.2" y="466.9" font-size="14" font-weight="bold" font-style="normal" fill="#4d4d4f" text-anchor="middle">10</text>
<text x="473.8" y="453.9" font-size="14" font-weight="bold" font-style="normal" fill="#4d4d4f" text-anchor="middle">0</text>
<text x="401.8" y="373.3" font-size="18.2" font-weight="bold" font-style="italic" fill="#58585a" text-anchor="start" textLength="124.0" lengthAdjust="spacingAndGlyphs">30° electrical</text>
<text x="400.8" y="397.5" font-size="18.2" font-weight="bold" font-style="italic" fill="#58585a" text-anchor="start" textLength="58.4" lengthAdjust="spacingAndGlyphs">tilting</text>
<text x="668.5" y="43.0" font-size="19" font-weight="bold" font-style="normal" fill="#4a4a4c" text-anchor="start" textLength="89.1" lengthAdjust="spacingAndGlyphs">4x4 array</text>
<text x="667.1" y="84.8" font-size="18.3" font-weight="normal" font-style="normal" fill="#5c5c5e" text-anchor="start" textLength="190.8" lengthAdjust="spacingAndGlyphs">Low mainbeam gain</text>
<text x="667.1" y="108.6" font-size="18.3" font-weight="normal" font-style="normal" fill="#5c5c5e" text-anchor="start" textLength="207.3" lengthAdjust="spacingAndGlyphs">but high sidelobe gain</text>
<text x="572.4" y="283.0" font-size="19.5" font-weight="normal" font-style="normal" fill="#5c5c5e" text-anchor="start" textLength="52.1" lengthAdjust="spacingAndGlyphs">Z-axis</text>
<text x="649.1" y="471.9" font-size="19.5" font-weight="normal" font-style="normal" fill="#5c5c5e" text-anchor="start" textLength="52.6" lengthAdjust="spacingAndGlyphs">X-axis</text>
<text x="926.5" y="495.5" font-size="19.5" font-weight="normal" font-style="normal" fill="#5c5c5e" text-anchor="start" textLength="51.5" lengthAdjust="spacingAndGlyphs">Y-axis</text>
<text x="658.0" y="174.5" font-size="14" font-weight="bold" font-style="normal" fill="#4d4d4f" text-anchor="end">15</text>
<text x="658.0" y="203.6" font-size="14" font-weight="bold" font-style="normal" fill="#4d4d4f" text-anchor="end">10</text>
<text x="658.0" y="233.9" font-size="14" font-weight="bold" font-style="normal" fill="#4d4d4f" text-anchor="end">5</text>
<text x="658.0" y="262.9" font-size="14" font-weight="bold" font-style="normal" fill="#4d4d4f" text-anchor="end">0</text>
<text x="658.0" y="292.7" font-size="14" font-weight="bold" font-style="normal" fill="#4d4d4f" text-anchor="end">-5</text>
<text x="658.0" y="323.0" font-size="14" font-weight="bold" font-style="normal" fill="#4d4d4f" text-anchor="end">-10</text>
<text x="658.0" y="351.7" font-size="14" font-weight="bold" font-style="normal" fill="#4d4d4f" text-anchor="end">-15</text>
<text x="658.0" y="381.2" font-size="14" font-weight="bold" font-style="normal" fill="#4d4d4f" text-anchor="end">-20</text>
<text x="649.4" y="401.4" font-size="14" font-weight="bold" font-style="normal" fill="#4d4d4f" text-anchor="middle">20</text>
<text x="685.4" y="425.4" font-size="14" font-weight="bold" font-style="normal" fill="#4d4d4f" text-anchor="middle">10</text>
<text x="728.5" y="450.3" font-size="14" font-weight="bold" font-style="normal" fill="#4d4d4f" text-anchor="middle">0</text>
<text x="763.8" y="472.3" font-size="14" font-weight="bold" font-style="normal" fill="#4d4d4f" text-anchor="middle">-10</text>
<text x="825.0" y="495.0" font-size="14" font-weight="bold" font-style="normal" fill="#4d4d4f" text-anchor="middle">30</text>
<text x="885.5" y="483.0" font-size="14" font-weight="bold" font-style="normal" fill="#4d4d4f" text-anchor="middle">20</text>
<text x="955.2" y="466.9" font-size="14" font-weight="bold" font-style="normal" fill="#4d4d4f" text-anchor="middle">10</text>
<text x="1018.8" y="453.9" font-size="14" font-weight="bold" font-style="normal" fill="#4d4d4f" text-anchor="middle">0</text>
<text x="944.2" y="373.3" font-size="18.2" font-weight="bold" font-style="italic" fill="#58585a" text-anchor="start" textLength="124.0" lengthAdjust="spacingAndGlyphs">30° electrical</text>
<text x="943.2" y="397.5" font-size="18.2" font-weight="bold" font-style="italic" fill="#58585a" text-anchor="start" textLength="58.4" lengthAdjust="spacingAndGlyphs">tilting</text>
<defs><linearGradient id="cb" x1="0" y1="0" x2="0" y2="1"><stop offset="0.0000" stop-color="#7d0c10"/><stop offset="0.0333" stop-color="#8a1014"/><stop offset="0.0667" stop-color="#9a1418"/><stop offset="0.1000" stop-color="#a8181f"/><stop offset="0.1333" stop-color="#b51e22"/><stop offset="0.1667" stop-color="#c8381f"/><stop offset="0.2000" stop-color="#dc5e1f"/><stop offset="0.2333" stop-color="#ea8320"/><stop offset="0.2667" stop-color="#f1a125"/><stop offset="0.3000" stop-color="#f4bd22"/><stop offset="0.3333" stop-color="#f7d823"/><stop offset="0.3667" stop-color="#f6e32a"/><stop offset="0.4000" stop-color="#d8e32f"/><stop offset="0.4333" stop-color="#b9e439"/><stop offset="0.4667" stop-color="#9de649"/><stop offset="0.5000" stop-color="#86e85e"/><stop offset="0.5333" stop-color="#5fe690"/><stop offset="0.5667" stop-color="#3de4c0"/><stop offset="0.6000" stop-color="#22e0e8"/><stop offset="0.6333" stop-color="#1ed8f4"/><stop offset="0.6667" stop-color="#1ab8e8"/><stop offset="0.7000" stop-color="#1aa8e0"/><stop offset="0.7333" stop-color="#1a98d8"/><stop offset="0.7667" stop-color="#1a88d2"/><stop offset="0.8000" stop-color="#1a76c6"/><stop offset="0.8333" stop-color="#1a64b8"/><stop offset="0.8667" stop-color="#1c57ae"/><stop offset="0.9000" stop-color="#1f4aa2"/><stop offset="0.9333" stop-color="#243c96"/><stop offset="0.9667" stop-color="#29308a"/><stop offset="1.0000" stop-color="#2c2377"/></linearGradient></defs>
<rect x="1139.1" y="110.1" width="22.7" height="350.7" fill="url(#cb)"/>
<line x1="1153" y1="169.9" x2="1161.8" y2="169.9" stroke="#fff" stroke-width="1.5"/>
<line x1="1153" y1="228.9" x2="1161.8" y2="228.9" stroke="#fff" stroke-width="1.5"/>
<line x1="1153" y1="287.9" x2="1161.8" y2="287.9" stroke="#fff" stroke-width="1.5"/>
<line x1="1153" y1="346.9" x2="1161.8" y2="346.9" stroke="#fff" stroke-width="1.5"/>
<line x1="1153" y1="405.9" x2="1161.8" y2="405.9" stroke="#fff" stroke-width="1.5"/>
<text x="1190.5" y="122.5" font-size="14" font-weight="bold" font-style="normal" fill="#4d4d4f" text-anchor="end">30</text>
<text x="1190.5" y="176.1" font-size="14" font-weight="bold" font-style="normal" fill="#4d4d4f" text-anchor="end">25</text>
<text x="1190.5" y="235.0" font-size="14" font-weight="bold" font-style="normal" fill="#4d4d4f" text-anchor="end">20</text>
<text x="1190.5" y="294.0" font-size="14" font-weight="bold" font-style="normal" fill="#4d4d4f" text-anchor="end">15</text>
<text x="1190.5" y="353.0" font-size="14" font-weight="bold" font-style="normal" fill="#4d4d4f" text-anchor="end">10</text>
<text x="1190.5" y="412.0" font-size="14" font-weight="bold" font-style="normal" fill="#4d4d4f" text-anchor="end">5</text>
<text x="1190.5" y="461.0" font-size="14" font-weight="bold" font-style="normal" fill="#4d4d4f" text-anchor="end">0</text>
</svg></body></html>
